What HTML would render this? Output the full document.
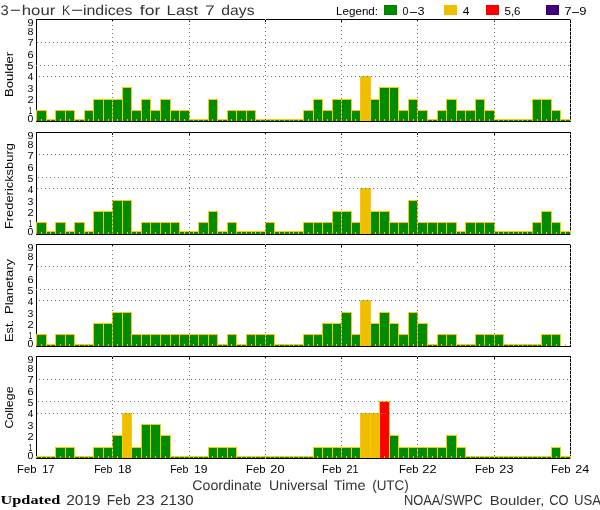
<!DOCTYPE html><html><head><meta charset="utf-8"><title>3-hour K-indices</title><style>html,body{margin:0;padding:0;background:#fff;}svg{display:block;}</style></head><body>
<svg width="600" height="510" viewBox="0 0 600 510">
<rect x="0" y="0" width="600" height="510" fill="#fff"/>
<g shape-rendering="crispEdges">
<path fill="#000000" d="M36 19h535v1h-535zM36 121h535v1h-535zM36 19h1v103h-1zM570 19h1v103h-1z"/>
<path fill="#008c00" d="M37 111h9v10h-9z"/>
<path fill="#ffc800" d="M36 110h11v1h-11zM36 110h1v11h-1zM46 110h1v11h-1z"/>
<path fill="#008c00" d="M47 120h8v1h-8z"/>
<path fill="#ffc800" d="M46 119h10v1h-10zM46 119h1v2h-1zM55 119h1v2h-1z"/>
<path fill="#008c00" d="M56 111h9v10h-9z"/>
<path fill="#ffc800" d="M55 110h11v1h-11zM55 110h1v11h-1zM65 110h1v11h-1z"/>
<path fill="#008c00" d="M66 111h8v10h-8z"/>
<path fill="#ffc800" d="M65 110h10v1h-10zM65 110h1v11h-1zM74 110h1v11h-1z"/>
<path fill="#008c00" d="M75 120h9v1h-9z"/>
<path fill="#ffc800" d="M74 119h11v1h-11zM74 119h1v2h-1zM84 119h1v2h-1z"/>
<path fill="#008c00" d="M85 111h8v10h-8z"/>
<path fill="#ffc800" d="M84 110h10v1h-10zM84 110h1v11h-1zM93 110h1v11h-1z"/>
<path fill="#008c00" d="M94 100h9v21h-9z"/>
<path fill="#ffc800" d="M93 99h11v1h-11zM93 99h1v22h-1zM103 99h1v22h-1z"/>
<path fill="#008c00" d="M104 100h8v21h-8z"/>
<path fill="#ffc800" d="M103 99h10v1h-10zM103 99h1v22h-1zM112 99h1v22h-1z"/>
<path fill="#008c00" d="M113 100h9v21h-9z"/>
<path fill="#ffc800" d="M112 99h11v1h-11zM112 99h1v22h-1zM122 99h1v22h-1z"/>
<path fill="#008c00" d="M123 88h8v33h-8z"/>
<path fill="#ffc800" d="M122 87h10v1h-10zM122 87h1v34h-1zM131 87h1v34h-1z"/>
<path fill="#008c00" d="M132 111h9v10h-9z"/>
<path fill="#ffc800" d="M131 110h11v1h-11zM131 110h1v11h-1zM141 110h1v11h-1z"/>
<path fill="#008c00" d="M142 100h8v21h-8z"/>
<path fill="#ffc800" d="M141 99h10v1h-10zM141 99h1v22h-1zM150 99h1v22h-1z"/>
<path fill="#008c00" d="M151 111h9v10h-9z"/>
<path fill="#ffc800" d="M150 110h11v1h-11zM150 110h1v11h-1zM160 110h1v11h-1z"/>
<path fill="#008c00" d="M161 100h9v21h-9z"/>
<path fill="#ffc800" d="M160 99h11v1h-11zM160 99h1v22h-1zM170 99h1v22h-1z"/>
<path fill="#008c00" d="M171 111h8v10h-8z"/>
<path fill="#ffc800" d="M170 110h10v1h-10zM170 110h1v11h-1zM179 110h1v11h-1z"/>
<path fill="#008c00" d="M180 111h9v10h-9z"/>
<path fill="#ffc800" d="M179 110h11v1h-11zM179 110h1v11h-1zM189 110h1v11h-1z"/>
<path fill="#008c00" d="M190 120h8v1h-8z"/>
<path fill="#ffc800" d="M189 119h10v1h-10zM189 119h1v2h-1zM198 119h1v2h-1z"/>
<path fill="#008c00" d="M199 120h9v1h-9z"/>
<path fill="#ffc800" d="M198 119h11v1h-11zM198 119h1v2h-1zM208 119h1v2h-1z"/>
<path fill="#008c00" d="M209 100h8v21h-8z"/>
<path fill="#ffc800" d="M208 99h10v1h-10zM208 99h1v22h-1zM217 99h1v22h-1z"/>
<path fill="#008c00" d="M218 120h9v1h-9z"/>
<path fill="#ffc800" d="M217 119h11v1h-11zM217 119h1v2h-1zM227 119h1v2h-1z"/>
<path fill="#008c00" d="M228 111h8v10h-8z"/>
<path fill="#ffc800" d="M227 110h10v1h-10zM227 110h1v11h-1zM236 110h1v11h-1z"/>
<path fill="#008c00" d="M237 111h9v10h-9z"/>
<path fill="#ffc800" d="M236 110h11v1h-11zM236 110h1v11h-1zM246 110h1v11h-1z"/>
<path fill="#008c00" d="M247 111h8v10h-8z"/>
<path fill="#ffc800" d="M246 110h10v1h-10zM246 110h1v11h-1zM255 110h1v11h-1z"/>
<path fill="#008c00" d="M256 120h9v1h-9z"/>
<path fill="#ffc800" d="M255 119h11v1h-11zM255 119h1v2h-1zM265 119h1v2h-1z"/>
<path fill="#008c00" d="M266 120h8v1h-8z"/>
<path fill="#ffc800" d="M265 119h10v1h-10zM265 119h1v2h-1zM274 119h1v2h-1z"/>
<path fill="#008c00" d="M275 120h9v1h-9z"/>
<path fill="#ffc800" d="M274 119h11v1h-11zM274 119h1v2h-1zM284 119h1v2h-1z"/>
<path fill="#008c00" d="M285 120h8v1h-8z"/>
<path fill="#ffc800" d="M284 119h10v1h-10zM284 119h1v2h-1zM293 119h1v2h-1z"/>
<path fill="#008c00" d="M294 120h9v1h-9z"/>
<path fill="#ffc800" d="M293 119h11v1h-11zM293 119h1v2h-1zM303 119h1v2h-1z"/>
<path fill="#008c00" d="M304 111h9v10h-9z"/>
<path fill="#ffc800" d="M303 110h11v1h-11zM303 110h1v11h-1zM313 110h1v11h-1z"/>
<path fill="#008c00" d="M314 100h8v21h-8z"/>
<path fill="#ffc800" d="M313 99h10v1h-10zM313 99h1v22h-1zM322 99h1v22h-1z"/>
<path fill="#008c00" d="M323 111h9v10h-9z"/>
<path fill="#ffc800" d="M322 110h11v1h-11zM322 110h1v11h-1zM332 110h1v11h-1z"/>
<path fill="#008c00" d="M333 100h8v21h-8z"/>
<path fill="#ffc800" d="M332 99h10v1h-10zM332 99h1v22h-1zM341 99h1v22h-1z"/>
<path fill="#008c00" d="M342 100h9v21h-9z"/>
<path fill="#ffc800" d="M341 99h11v1h-11zM341 99h1v22h-1zM351 99h1v22h-1z"/>
<path fill="#008c00" d="M352 111h8v10h-8z"/>
<path fill="#ffc800" d="M351 110h10v1h-10zM351 110h1v11h-1zM360 110h1v11h-1z"/>
<path fill="#f0be00" d="M361 77h9v44h-9z"/>
<path fill="#ffc800" d="M360 76h11v1h-11zM360 76h1v45h-1zM370 76h1v45h-1z"/>
<path fill="#008c00" d="M371 100h8v21h-8z"/>
<path fill="#ffc800" d="M370 99h10v1h-10zM370 99h1v22h-1zM379 99h1v22h-1z"/>
<path fill="#008c00" d="M380 88h9v33h-9z"/>
<path fill="#ffc800" d="M379 87h11v1h-11zM379 87h1v34h-1zM389 87h1v34h-1z"/>
<path fill="#008c00" d="M390 88h8v33h-8z"/>
<path fill="#ffc800" d="M389 87h10v1h-10zM389 87h1v34h-1zM398 87h1v34h-1z"/>
<path fill="#008c00" d="M399 111h9v10h-9z"/>
<path fill="#ffc800" d="M398 110h11v1h-11zM398 110h1v11h-1zM408 110h1v11h-1z"/>
<path fill="#008c00" d="M409 100h8v21h-8z"/>
<path fill="#ffc800" d="M408 99h10v1h-10zM408 99h1v22h-1zM417 99h1v22h-1z"/>
<path fill="#008c00" d="M418 111h9v10h-9z"/>
<path fill="#ffc800" d="M417 110h11v1h-11zM417 110h1v11h-1zM427 110h1v11h-1z"/>
<path fill="#008c00" d="M428 120h9v1h-9z"/>
<path fill="#ffc800" d="M427 119h11v1h-11zM427 119h1v2h-1zM437 119h1v2h-1z"/>
<path fill="#008c00" d="M438 111h8v10h-8z"/>
<path fill="#ffc800" d="M437 110h10v1h-10zM437 110h1v11h-1zM446 110h1v11h-1z"/>
<path fill="#008c00" d="M447 100h9v21h-9z"/>
<path fill="#ffc800" d="M446 99h11v1h-11zM446 99h1v22h-1zM456 99h1v22h-1z"/>
<path fill="#008c00" d="M457 111h8v10h-8z"/>
<path fill="#ffc800" d="M456 110h10v1h-10zM456 110h1v11h-1zM465 110h1v11h-1z"/>
<path fill="#008c00" d="M466 111h9v10h-9z"/>
<path fill="#ffc800" d="M465 110h11v1h-11zM465 110h1v11h-1zM475 110h1v11h-1z"/>
<path fill="#008c00" d="M476 100h8v21h-8z"/>
<path fill="#ffc800" d="M475 99h10v1h-10zM475 99h1v22h-1zM484 99h1v22h-1z"/>
<path fill="#008c00" d="M485 111h9v10h-9z"/>
<path fill="#ffc800" d="M484 110h11v1h-11zM484 110h1v11h-1zM494 110h1v11h-1z"/>
<path fill="#008c00" d="M495 120h8v1h-8z"/>
<path fill="#ffc800" d="M494 119h10v1h-10zM494 119h1v2h-1zM503 119h1v2h-1z"/>
<path fill="#008c00" d="M504 120h9v1h-9z"/>
<path fill="#ffc800" d="M503 119h11v1h-11zM503 119h1v2h-1zM513 119h1v2h-1z"/>
<path fill="#008c00" d="M514 120h8v1h-8z"/>
<path fill="#ffc800" d="M513 119h10v1h-10zM513 119h1v2h-1zM522 119h1v2h-1z"/>
<path fill="#008c00" d="M523 120h9v1h-9z"/>
<path fill="#ffc800" d="M522 119h11v1h-11zM522 119h1v2h-1zM532 119h1v2h-1z"/>
<path fill="#008c00" d="M533 100h8v21h-8z"/>
<path fill="#ffc800" d="M532 99h10v1h-10zM532 99h1v22h-1zM541 99h1v22h-1z"/>
<path fill="#008c00" d="M542 100h9v21h-9z"/>
<path fill="#ffc800" d="M541 99h11v1h-11zM541 99h1v22h-1zM551 99h1v22h-1z"/>
<path fill="#008c00" d="M552 111h8v10h-8z"/>
<path fill="#ffc800" d="M551 110h10v1h-10zM551 110h1v11h-1zM560 110h1v11h-1z"/>
<path fill="#008c00" d="M561 120h9v1h-9z"/>
<path fill="#ffc800" d="M560 119h11v1h-11zM560 119h1v2h-1zM570 119h1v2h-1zM41 119h1v2h-1zM50 119h1v2h-1zM60 119h1v2h-1zM69 119h1v2h-1zM79 119h1v2h-1zM88 119h1v2h-1zM98 119h1v2h-1zM108 119h1v2h-1zM117 119h1v2h-1zM127 119h1v2h-1zM136 119h1v2h-1zM146 119h1v2h-1zM155 119h1v2h-1zM165 119h1v2h-1zM174 119h1v2h-1zM184 119h1v2h-1zM193 119h1v2h-1zM203 119h1v2h-1zM212 119h1v2h-1zM222 119h1v2h-1zM231 119h1v2h-1zM241 119h1v2h-1zM251 119h1v2h-1zM260 119h1v2h-1zM270 119h1v2h-1zM279 119h1v2h-1zM289 119h1v2h-1zM298 119h1v2h-1zM308 119h1v2h-1zM317 119h1v2h-1zM327 119h1v2h-1zM336 119h1v2h-1zM346 119h1v2h-1zM355 119h1v2h-1zM365 119h1v2h-1zM375 119h1v2h-1zM384 119h1v2h-1zM394 119h1v2h-1zM403 119h1v2h-1zM413 119h1v2h-1zM422 119h1v2h-1zM432 119h1v2h-1zM441 119h1v2h-1zM451 119h1v2h-1zM460 119h1v2h-1zM470 119h1v2h-1zM479 119h1v2h-1zM489 119h1v2h-1zM498 119h1v2h-1zM508 119h1v2h-1zM518 119h1v2h-1zM527 119h1v2h-1zM537 119h1v2h-1zM546 119h1v2h-1zM556 119h1v2h-1zM565 119h1v2h-1z"/>
<path fill="#000000" d="M36 132h535v1h-535zM36 234h535v1h-535zM36 132h1v103h-1zM570 132h1v103h-1z"/>
<path fill="#008c00" d="M37 223h9v11h-9z"/>
<path fill="#ffc800" d="M36 222h11v1h-11zM36 222h1v12h-1zM46 222h1v12h-1z"/>
<path fill="#008c00" d="M47 232h8v2h-8z"/>
<path fill="#ffc800" d="M46 231h10v1h-10zM46 231h1v3h-1zM55 231h1v3h-1z"/>
<path fill="#008c00" d="M56 223h9v11h-9z"/>
<path fill="#ffc800" d="M55 222h11v1h-11zM55 222h1v12h-1zM65 222h1v12h-1z"/>
<path fill="#008c00" d="M66 232h8v2h-8z"/>
<path fill="#ffc800" d="M65 231h10v1h-10zM65 231h1v3h-1zM74 231h1v3h-1z"/>
<path fill="#008c00" d="M75 223h9v11h-9z"/>
<path fill="#ffc800" d="M74 222h11v1h-11zM74 222h1v12h-1zM84 222h1v12h-1z"/>
<path fill="#008c00" d="M85 232h8v2h-8z"/>
<path fill="#ffc800" d="M84 231h10v1h-10zM84 231h1v3h-1zM93 231h1v3h-1z"/>
<path fill="#008c00" d="M94 212h9v22h-9z"/>
<path fill="#ffc800" d="M93 211h11v1h-11zM93 211h1v23h-1zM103 211h1v23h-1z"/>
<path fill="#008c00" d="M104 212h8v22h-8z"/>
<path fill="#ffc800" d="M103 211h10v1h-10zM103 211h1v23h-1zM112 211h1v23h-1z"/>
<path fill="#008c00" d="M113 201h9v33h-9z"/>
<path fill="#ffc800" d="M112 200h11v1h-11zM112 200h1v34h-1zM122 200h1v34h-1z"/>
<path fill="#008c00" d="M123 201h8v33h-8z"/>
<path fill="#ffc800" d="M122 200h10v1h-10zM122 200h1v34h-1zM131 200h1v34h-1z"/>
<path fill="#008c00" d="M132 232h9v2h-9z"/>
<path fill="#ffc800" d="M131 231h11v1h-11zM131 231h1v3h-1zM141 231h1v3h-1z"/>
<path fill="#008c00" d="M142 223h8v11h-8z"/>
<path fill="#ffc800" d="M141 222h10v1h-10zM141 222h1v12h-1zM150 222h1v12h-1z"/>
<path fill="#008c00" d="M151 223h9v11h-9z"/>
<path fill="#ffc800" d="M150 222h11v1h-11zM150 222h1v12h-1zM160 222h1v12h-1z"/>
<path fill="#008c00" d="M161 223h9v11h-9z"/>
<path fill="#ffc800" d="M160 222h11v1h-11zM160 222h1v12h-1zM170 222h1v12h-1z"/>
<path fill="#008c00" d="M171 223h8v11h-8z"/>
<path fill="#ffc800" d="M170 222h10v1h-10zM170 222h1v12h-1zM179 222h1v12h-1z"/>
<path fill="#008c00" d="M180 232h9v2h-9z"/>
<path fill="#ffc800" d="M179 231h11v1h-11zM179 231h1v3h-1zM189 231h1v3h-1z"/>
<path fill="#008c00" d="M190 232h8v2h-8z"/>
<path fill="#ffc800" d="M189 231h10v1h-10zM189 231h1v3h-1zM198 231h1v3h-1z"/>
<path fill="#008c00" d="M199 223h9v11h-9z"/>
<path fill="#ffc800" d="M198 222h11v1h-11zM198 222h1v12h-1zM208 222h1v12h-1z"/>
<path fill="#008c00" d="M209 212h8v22h-8z"/>
<path fill="#ffc800" d="M208 211h10v1h-10zM208 211h1v23h-1zM217 211h1v23h-1z"/>
<path fill="#008c00" d="M218 232h9v2h-9z"/>
<path fill="#ffc800" d="M217 231h11v1h-11zM217 231h1v3h-1zM227 231h1v3h-1z"/>
<path fill="#008c00" d="M228 223h8v11h-8z"/>
<path fill="#ffc800" d="M227 222h10v1h-10zM227 222h1v12h-1zM236 222h1v12h-1z"/>
<path fill="#008c00" d="M237 232h9v2h-9z"/>
<path fill="#ffc800" d="M236 231h11v1h-11zM236 231h1v3h-1zM246 231h1v3h-1z"/>
<path fill="#008c00" d="M247 232h8v2h-8z"/>
<path fill="#ffc800" d="M246 231h10v1h-10zM246 231h1v3h-1zM255 231h1v3h-1z"/>
<path fill="#008c00" d="M256 232h9v2h-9z"/>
<path fill="#ffc800" d="M255 231h11v1h-11zM255 231h1v3h-1zM265 231h1v3h-1z"/>
<path fill="#008c00" d="M266 223h8v11h-8z"/>
<path fill="#ffc800" d="M265 222h10v1h-10zM265 222h1v12h-1zM274 222h1v12h-1z"/>
<path fill="#008c00" d="M275 232h9v2h-9z"/>
<path fill="#ffc800" d="M274 231h11v1h-11zM274 231h1v3h-1zM284 231h1v3h-1z"/>
<path fill="#008c00" d="M285 232h8v2h-8z"/>
<path fill="#ffc800" d="M284 231h10v1h-10zM284 231h1v3h-1zM293 231h1v3h-1z"/>
<path fill="#008c00" d="M294 232h9v2h-9z"/>
<path fill="#ffc800" d="M293 231h11v1h-11zM293 231h1v3h-1zM303 231h1v3h-1z"/>
<path fill="#008c00" d="M304 223h9v11h-9z"/>
<path fill="#ffc800" d="M303 222h11v1h-11zM303 222h1v12h-1zM313 222h1v12h-1z"/>
<path fill="#008c00" d="M314 223h8v11h-8z"/>
<path fill="#ffc800" d="M313 222h10v1h-10zM313 222h1v12h-1zM322 222h1v12h-1z"/>
<path fill="#008c00" d="M323 223h9v11h-9z"/>
<path fill="#ffc800" d="M322 222h11v1h-11zM322 222h1v12h-1zM332 222h1v12h-1z"/>
<path fill="#008c00" d="M333 212h8v22h-8z"/>
<path fill="#ffc800" d="M332 211h10v1h-10zM332 211h1v23h-1zM341 211h1v23h-1z"/>
<path fill="#008c00" d="M342 212h9v22h-9z"/>
<path fill="#ffc800" d="M341 211h11v1h-11zM341 211h1v23h-1zM351 211h1v23h-1z"/>
<path fill="#008c00" d="M352 223h8v11h-8z"/>
<path fill="#ffc800" d="M351 222h10v1h-10zM351 222h1v12h-1zM360 222h1v12h-1z"/>
<path fill="#f0be00" d="M361 189h9v45h-9z"/>
<path fill="#ffc800" d="M360 188h11v1h-11zM360 188h1v46h-1zM370 188h1v46h-1z"/>
<path fill="#008c00" d="M371 212h8v22h-8z"/>
<path fill="#ffc800" d="M370 211h10v1h-10zM370 211h1v23h-1zM379 211h1v23h-1z"/>
<path fill="#008c00" d="M380 212h9v22h-9z"/>
<path fill="#ffc800" d="M379 211h11v1h-11zM379 211h1v23h-1zM389 211h1v23h-1z"/>
<path fill="#008c00" d="M390 223h8v11h-8z"/>
<path fill="#ffc800" d="M389 222h10v1h-10zM389 222h1v12h-1zM398 222h1v12h-1z"/>
<path fill="#008c00" d="M399 223h9v11h-9z"/>
<path fill="#ffc800" d="M398 222h11v1h-11zM398 222h1v12h-1zM408 222h1v12h-1z"/>
<path fill="#008c00" d="M409 201h8v33h-8z"/>
<path fill="#ffc800" d="M408 200h10v1h-10zM408 200h1v34h-1zM417 200h1v34h-1z"/>
<path fill="#008c00" d="M418 223h9v11h-9z"/>
<path fill="#ffc800" d="M417 222h11v1h-11zM417 222h1v12h-1zM427 222h1v12h-1z"/>
<path fill="#008c00" d="M428 223h9v11h-9z"/>
<path fill="#ffc800" d="M427 222h11v1h-11zM427 222h1v12h-1zM437 222h1v12h-1z"/>
<path fill="#008c00" d="M438 223h8v11h-8z"/>
<path fill="#ffc800" d="M437 222h10v1h-10zM437 222h1v12h-1zM446 222h1v12h-1z"/>
<path fill="#008c00" d="M447 223h9v11h-9z"/>
<path fill="#ffc800" d="M446 222h11v1h-11zM446 222h1v12h-1zM456 222h1v12h-1z"/>
<path fill="#008c00" d="M457 232h8v2h-8z"/>
<path fill="#ffc800" d="M456 231h10v1h-10zM456 231h1v3h-1zM465 231h1v3h-1z"/>
<path fill="#008c00" d="M466 223h9v11h-9z"/>
<path fill="#ffc800" d="M465 222h11v1h-11zM465 222h1v12h-1zM475 222h1v12h-1z"/>
<path fill="#008c00" d="M476 223h8v11h-8z"/>
<path fill="#ffc800" d="M475 222h10v1h-10zM475 222h1v12h-1zM484 222h1v12h-1z"/>
<path fill="#008c00" d="M485 223h9v11h-9z"/>
<path fill="#ffc800" d="M484 222h11v1h-11zM484 222h1v12h-1zM494 222h1v12h-1z"/>
<path fill="#008c00" d="M495 232h8v2h-8z"/>
<path fill="#ffc800" d="M494 231h10v1h-10zM494 231h1v3h-1zM503 231h1v3h-1z"/>
<path fill="#008c00" d="M504 232h9v2h-9z"/>
<path fill="#ffc800" d="M503 231h11v1h-11zM503 231h1v3h-1zM513 231h1v3h-1z"/>
<path fill="#008c00" d="M514 232h8v2h-8z"/>
<path fill="#ffc800" d="M513 231h10v1h-10zM513 231h1v3h-1zM522 231h1v3h-1z"/>
<path fill="#008c00" d="M523 232h9v2h-9z"/>
<path fill="#ffc800" d="M522 231h11v1h-11zM522 231h1v3h-1zM532 231h1v3h-1z"/>
<path fill="#008c00" d="M533 223h8v11h-8z"/>
<path fill="#ffc800" d="M532 222h10v1h-10zM532 222h1v12h-1zM541 222h1v12h-1z"/>
<path fill="#008c00" d="M542 212h9v22h-9z"/>
<path fill="#ffc800" d="M541 211h11v1h-11zM541 211h1v23h-1zM551 211h1v23h-1z"/>
<path fill="#008c00" d="M552 223h8v11h-8z"/>
<path fill="#ffc800" d="M551 222h10v1h-10zM551 222h1v12h-1zM560 222h1v12h-1z"/>
<path fill="#008c00" d="M561 232h9v2h-9z"/>
<path fill="#ffc800" d="M560 231h11v1h-11zM560 231h1v3h-1zM570 231h1v3h-1zM41 232h1v2h-1zM50 232h1v2h-1zM60 232h1v2h-1zM69 232h1v2h-1zM79 232h1v2h-1zM88 232h1v2h-1zM98 232h1v2h-1zM108 232h1v2h-1zM117 232h1v2h-1zM127 232h1v2h-1zM136 232h1v2h-1zM146 232h1v2h-1zM155 232h1v2h-1zM165 232h1v2h-1zM174 232h1v2h-1zM184 232h1v2h-1zM193 232h1v2h-1zM203 232h1v2h-1zM212 232h1v2h-1zM222 232h1v2h-1zM231 232h1v2h-1zM241 232h1v2h-1zM251 232h1v2h-1zM260 232h1v2h-1zM270 232h1v2h-1zM279 232h1v2h-1zM289 232h1v2h-1zM298 232h1v2h-1zM308 232h1v2h-1zM317 232h1v2h-1zM327 232h1v2h-1zM336 232h1v2h-1zM346 232h1v2h-1zM355 232h1v2h-1zM365 232h1v2h-1zM375 232h1v2h-1zM384 232h1v2h-1zM394 232h1v2h-1zM403 232h1v2h-1zM413 232h1v2h-1zM422 232h1v2h-1zM432 232h1v2h-1zM441 232h1v2h-1zM451 232h1v2h-1zM460 232h1v2h-1zM470 232h1v2h-1zM479 232h1v2h-1zM489 232h1v2h-1zM498 232h1v2h-1zM508 232h1v2h-1zM518 232h1v2h-1zM527 232h1v2h-1zM537 232h1v2h-1zM546 232h1v2h-1zM556 232h1v2h-1zM565 232h1v2h-1z"/>
<path fill="#000000" d="M36 244h535v1h-535zM36 346h535v1h-535zM36 244h1v103h-1zM570 244h1v103h-1z"/>
<path fill="#008c00" d="M37 335h9v11h-9z"/>
<path fill="#ffc800" d="M36 334h11v1h-11zM36 334h1v12h-1zM46 334h1v12h-1z"/>
<path fill="#008c00" d="M47 345h8v1h-8z"/>
<path fill="#ffc800" d="M46 344h10v1h-10zM46 344h1v2h-1zM55 344h1v2h-1z"/>
<path fill="#008c00" d="M56 335h9v11h-9z"/>
<path fill="#ffc800" d="M55 334h11v1h-11zM55 334h1v12h-1zM65 334h1v12h-1z"/>
<path fill="#008c00" d="M66 335h8v11h-8z"/>
<path fill="#ffc800" d="M65 334h10v1h-10zM65 334h1v12h-1zM74 334h1v12h-1z"/>
<path fill="#008c00" d="M75 345h9v1h-9z"/>
<path fill="#ffc800" d="M74 344h11v1h-11zM74 344h1v2h-1zM84 344h1v2h-1z"/>
<path fill="#008c00" d="M85 345h8v1h-8z"/>
<path fill="#ffc800" d="M84 344h10v1h-10zM84 344h1v2h-1zM93 344h1v2h-1z"/>
<path fill="#008c00" d="M94 324h9v22h-9z"/>
<path fill="#ffc800" d="M93 323h11v1h-11zM93 323h1v23h-1zM103 323h1v23h-1z"/>
<path fill="#008c00" d="M104 324h8v22h-8z"/>
<path fill="#ffc800" d="M103 323h10v1h-10zM103 323h1v23h-1zM112 323h1v23h-1z"/>
<path fill="#008c00" d="M113 313h9v33h-9z"/>
<path fill="#ffc800" d="M112 312h11v1h-11zM112 312h1v34h-1zM122 312h1v34h-1z"/>
<path fill="#008c00" d="M123 313h8v33h-8z"/>
<path fill="#ffc800" d="M122 312h10v1h-10zM122 312h1v34h-1zM131 312h1v34h-1z"/>
<path fill="#008c00" d="M132 335h9v11h-9z"/>
<path fill="#ffc800" d="M131 334h11v1h-11zM131 334h1v12h-1zM141 334h1v12h-1z"/>
<path fill="#008c00" d="M142 335h8v11h-8z"/>
<path fill="#ffc800" d="M141 334h10v1h-10zM141 334h1v12h-1zM150 334h1v12h-1z"/>
<path fill="#008c00" d="M151 335h9v11h-9z"/>
<path fill="#ffc800" d="M150 334h11v1h-11zM150 334h1v12h-1zM160 334h1v12h-1z"/>
<path fill="#008c00" d="M161 335h9v11h-9z"/>
<path fill="#ffc800" d="M160 334h11v1h-11zM160 334h1v12h-1zM170 334h1v12h-1z"/>
<path fill="#008c00" d="M171 335h8v11h-8z"/>
<path fill="#ffc800" d="M170 334h10v1h-10zM170 334h1v12h-1zM179 334h1v12h-1z"/>
<path fill="#008c00" d="M180 335h9v11h-9z"/>
<path fill="#ffc800" d="M179 334h11v1h-11zM179 334h1v12h-1zM189 334h1v12h-1z"/>
<path fill="#008c00" d="M190 335h8v11h-8z"/>
<path fill="#ffc800" d="M189 334h10v1h-10zM189 334h1v12h-1zM198 334h1v12h-1z"/>
<path fill="#008c00" d="M199 335h9v11h-9z"/>
<path fill="#ffc800" d="M198 334h11v1h-11zM198 334h1v12h-1zM208 334h1v12h-1z"/>
<path fill="#008c00" d="M209 335h8v11h-8z"/>
<path fill="#ffc800" d="M208 334h10v1h-10zM208 334h1v12h-1zM217 334h1v12h-1z"/>
<path fill="#008c00" d="M218 345h9v1h-9z"/>
<path fill="#ffc800" d="M217 344h11v1h-11zM217 344h1v2h-1zM227 344h1v2h-1z"/>
<path fill="#008c00" d="M228 335h8v11h-8z"/>
<path fill="#ffc800" d="M227 334h10v1h-10zM227 334h1v12h-1zM236 334h1v12h-1z"/>
<path fill="#008c00" d="M237 345h9v1h-9z"/>
<path fill="#ffc800" d="M236 344h11v1h-11zM236 344h1v2h-1zM246 344h1v2h-1z"/>
<path fill="#008c00" d="M247 335h8v11h-8z"/>
<path fill="#ffc800" d="M246 334h10v1h-10zM246 334h1v12h-1zM255 334h1v12h-1z"/>
<path fill="#008c00" d="M256 335h9v11h-9z"/>
<path fill="#ffc800" d="M255 334h11v1h-11zM255 334h1v12h-1zM265 334h1v12h-1z"/>
<path fill="#008c00" d="M266 335h8v11h-8z"/>
<path fill="#ffc800" d="M265 334h10v1h-10zM265 334h1v12h-1zM274 334h1v12h-1z"/>
<path fill="#008c00" d="M275 345h9v1h-9z"/>
<path fill="#ffc800" d="M274 344h11v1h-11zM274 344h1v2h-1zM284 344h1v2h-1z"/>
<path fill="#008c00" d="M285 345h8v1h-8z"/>
<path fill="#ffc800" d="M284 344h10v1h-10zM284 344h1v2h-1zM293 344h1v2h-1z"/>
<path fill="#008c00" d="M294 345h9v1h-9z"/>
<path fill="#ffc800" d="M293 344h11v1h-11zM293 344h1v2h-1zM303 344h1v2h-1z"/>
<path fill="#008c00" d="M304 335h9v11h-9z"/>
<path fill="#ffc800" d="M303 334h11v1h-11zM303 334h1v12h-1zM313 334h1v12h-1z"/>
<path fill="#008c00" d="M314 335h8v11h-8z"/>
<path fill="#ffc800" d="M313 334h10v1h-10zM313 334h1v12h-1zM322 334h1v12h-1z"/>
<path fill="#008c00" d="M323 324h9v22h-9z"/>
<path fill="#ffc800" d="M322 323h11v1h-11zM322 323h1v23h-1zM332 323h1v23h-1z"/>
<path fill="#008c00" d="M333 324h8v22h-8z"/>
<path fill="#ffc800" d="M332 323h10v1h-10zM332 323h1v23h-1zM341 323h1v23h-1z"/>
<path fill="#008c00" d="M342 313h9v33h-9z"/>
<path fill="#ffc800" d="M341 312h11v1h-11zM341 312h1v34h-1zM351 312h1v34h-1z"/>
<path fill="#008c00" d="M352 335h8v11h-8z"/>
<path fill="#ffc800" d="M351 334h10v1h-10zM351 334h1v12h-1zM360 334h1v12h-1z"/>
<path fill="#f0be00" d="M361 301h9v45h-9z"/>
<path fill="#ffc800" d="M360 300h11v1h-11zM360 300h1v46h-1zM370 300h1v46h-1z"/>
<path fill="#008c00" d="M371 324h8v22h-8z"/>
<path fill="#ffc800" d="M370 323h10v1h-10zM370 323h1v23h-1zM379 323h1v23h-1z"/>
<path fill="#008c00" d="M380 313h9v33h-9z"/>
<path fill="#ffc800" d="M379 312h11v1h-11zM379 312h1v34h-1zM389 312h1v34h-1z"/>
<path fill="#008c00" d="M390 324h8v22h-8z"/>
<path fill="#ffc800" d="M389 323h10v1h-10zM389 323h1v23h-1zM398 323h1v23h-1z"/>
<path fill="#008c00" d="M399 335h9v11h-9z"/>
<path fill="#ffc800" d="M398 334h11v1h-11zM398 334h1v12h-1zM408 334h1v12h-1z"/>
<path fill="#008c00" d="M409 313h8v33h-8z"/>
<path fill="#ffc800" d="M408 312h10v1h-10zM408 312h1v34h-1zM417 312h1v34h-1z"/>
<path fill="#008c00" d="M418 324h9v22h-9z"/>
<path fill="#ffc800" d="M417 323h11v1h-11zM417 323h1v23h-1zM427 323h1v23h-1z"/>
<path fill="#008c00" d="M428 345h9v1h-9z"/>
<path fill="#ffc800" d="M427 344h11v1h-11zM427 344h1v2h-1zM437 344h1v2h-1z"/>
<path fill="#008c00" d="M438 335h8v11h-8z"/>
<path fill="#ffc800" d="M437 334h10v1h-10zM437 334h1v12h-1zM446 334h1v12h-1z"/>
<path fill="#008c00" d="M447 335h9v11h-9z"/>
<path fill="#ffc800" d="M446 334h11v1h-11zM446 334h1v12h-1zM456 334h1v12h-1z"/>
<path fill="#008c00" d="M457 345h8v1h-8z"/>
<path fill="#ffc800" d="M456 344h10v1h-10zM456 344h1v2h-1zM465 344h1v2h-1z"/>
<path fill="#008c00" d="M466 345h9v1h-9z"/>
<path fill="#ffc800" d="M465 344h11v1h-11zM465 344h1v2h-1zM475 344h1v2h-1z"/>
<path fill="#008c00" d="M476 335h8v11h-8z"/>
<path fill="#ffc800" d="M475 334h10v1h-10zM475 334h1v12h-1zM484 334h1v12h-1z"/>
<path fill="#008c00" d="M485 335h9v11h-9z"/>
<path fill="#ffc800" d="M484 334h11v1h-11zM484 334h1v12h-1zM494 334h1v12h-1z"/>
<path fill="#008c00" d="M495 335h8v11h-8z"/>
<path fill="#ffc800" d="M494 334h10v1h-10zM494 334h1v12h-1zM503 334h1v12h-1z"/>
<path fill="#008c00" d="M504 345h9v1h-9z"/>
<path fill="#ffc800" d="M503 344h11v1h-11zM503 344h1v2h-1zM513 344h1v2h-1z"/>
<path fill="#008c00" d="M514 345h8v1h-8z"/>
<path fill="#ffc800" d="M513 344h10v1h-10zM513 344h1v2h-1zM522 344h1v2h-1z"/>
<path fill="#008c00" d="M523 345h9v1h-9z"/>
<path fill="#ffc800" d="M522 344h11v1h-11zM522 344h1v2h-1zM532 344h1v2h-1z"/>
<path fill="#008c00" d="M533 345h8v1h-8z"/>
<path fill="#ffc800" d="M532 344h10v1h-10zM532 344h1v2h-1zM541 344h1v2h-1z"/>
<path fill="#008c00" d="M542 335h9v11h-9z"/>
<path fill="#ffc800" d="M541 334h11v1h-11zM541 334h1v12h-1zM551 334h1v12h-1z"/>
<path fill="#008c00" d="M552 335h8v11h-8z"/>
<path fill="#ffc800" d="M551 334h10v1h-10zM551 334h1v12h-1zM560 334h1v12h-1zM41 344h1v2h-1zM50 344h1v2h-1zM60 344h1v2h-1zM69 344h1v2h-1zM79 344h1v2h-1zM88 344h1v2h-1zM98 344h1v2h-1zM108 344h1v2h-1zM117 344h1v2h-1zM127 344h1v2h-1zM136 344h1v2h-1zM146 344h1v2h-1zM155 344h1v2h-1zM165 344h1v2h-1zM174 344h1v2h-1zM184 344h1v2h-1zM193 344h1v2h-1zM203 344h1v2h-1zM212 344h1v2h-1zM222 344h1v2h-1zM231 344h1v2h-1zM241 344h1v2h-1zM251 344h1v2h-1zM260 344h1v2h-1zM270 344h1v2h-1zM279 344h1v2h-1zM289 344h1v2h-1zM298 344h1v2h-1zM308 344h1v2h-1zM317 344h1v2h-1zM327 344h1v2h-1zM336 344h1v2h-1zM346 344h1v2h-1zM355 344h1v2h-1zM365 344h1v2h-1zM375 344h1v2h-1zM384 344h1v2h-1zM394 344h1v2h-1zM403 344h1v2h-1zM413 344h1v2h-1zM422 344h1v2h-1zM432 344h1v2h-1zM441 344h1v2h-1zM451 344h1v2h-1zM460 344h1v2h-1zM470 344h1v2h-1zM479 344h1v2h-1zM489 344h1v2h-1zM498 344h1v2h-1zM508 344h1v2h-1zM518 344h1v2h-1zM527 344h1v2h-1zM537 344h1v2h-1zM546 344h1v2h-1zM556 344h1v2h-1zM565 344h1v2h-1z"/>
<path fill="#000000" d="M36 356h535v1h-535zM36 458h535v1h-535zM36 356h1v103h-1zM570 356h1v103h-1z"/>
<path fill="#008c00" d="M37 457h9v1h-9z"/>
<path fill="#ffc800" d="M36 456h11v1h-11zM36 456h1v2h-1zM46 456h1v2h-1z"/>
<path fill="#008c00" d="M47 457h8v1h-8z"/>
<path fill="#ffc800" d="M46 456h10v1h-10zM46 456h1v2h-1zM55 456h1v2h-1z"/>
<path fill="#008c00" d="M56 448h9v10h-9z"/>
<path fill="#ffc800" d="M55 447h11v1h-11zM55 447h1v11h-1zM65 447h1v11h-1z"/>
<path fill="#008c00" d="M66 448h8v10h-8z"/>
<path fill="#ffc800" d="M65 447h10v1h-10zM65 447h1v11h-1zM74 447h1v11h-1z"/>
<path fill="#008c00" d="M75 457h9v1h-9z"/>
<path fill="#ffc800" d="M74 456h11v1h-11zM74 456h1v2h-1zM84 456h1v2h-1z"/>
<path fill="#008c00" d="M85 457h8v1h-8z"/>
<path fill="#ffc800" d="M84 456h10v1h-10zM84 456h1v2h-1zM93 456h1v2h-1z"/>
<path fill="#008c00" d="M94 448h9v10h-9z"/>
<path fill="#ffc800" d="M93 447h11v1h-11zM93 447h1v11h-1zM103 447h1v11h-1z"/>
<path fill="#008c00" d="M104 448h8v10h-8z"/>
<path fill="#ffc800" d="M103 447h10v1h-10zM103 447h1v11h-1zM112 447h1v11h-1z"/>
<path fill="#008c00" d="M113 436h9v22h-9z"/>
<path fill="#ffc800" d="M112 435h11v1h-11zM112 435h1v23h-1zM122 435h1v23h-1z"/>
<path fill="#f0be00" d="M123 414h8v44h-8z"/>
<path fill="#ffc800" d="M122 413h10v1h-10zM122 413h1v45h-1zM131 413h1v45h-1z"/>
<path fill="#008c00" d="M132 448h9v10h-9z"/>
<path fill="#ffc800" d="M131 447h11v1h-11zM131 447h1v11h-1zM141 447h1v11h-1z"/>
<path fill="#008c00" d="M142 425h8v33h-8z"/>
<path fill="#ffc800" d="M141 424h10v1h-10zM141 424h1v34h-1zM150 424h1v34h-1z"/>
<path fill="#008c00" d="M151 425h9v33h-9z"/>
<path fill="#ffc800" d="M150 424h11v1h-11zM150 424h1v34h-1zM160 424h1v34h-1z"/>
<path fill="#008c00" d="M161 436h9v22h-9z"/>
<path fill="#ffc800" d="M160 435h11v1h-11zM160 435h1v23h-1zM170 435h1v23h-1z"/>
<path fill="#008c00" d="M171 457h8v1h-8z"/>
<path fill="#ffc800" d="M170 456h10v1h-10zM170 456h1v2h-1zM179 456h1v2h-1z"/>
<path fill="#008c00" d="M180 457h9v1h-9z"/>
<path fill="#ffc800" d="M179 456h11v1h-11zM179 456h1v2h-1zM189 456h1v2h-1z"/>
<path fill="#008c00" d="M190 457h8v1h-8z"/>
<path fill="#ffc800" d="M189 456h10v1h-10zM189 456h1v2h-1zM198 456h1v2h-1z"/>
<path fill="#008c00" d="M199 457h9v1h-9z"/>
<path fill="#ffc800" d="M198 456h11v1h-11zM198 456h1v2h-1zM208 456h1v2h-1z"/>
<path fill="#008c00" d="M209 448h8v10h-8z"/>
<path fill="#ffc800" d="M208 447h10v1h-10zM208 447h1v11h-1zM217 447h1v11h-1z"/>
<path fill="#008c00" d="M218 448h9v10h-9z"/>
<path fill="#ffc800" d="M217 447h11v1h-11zM217 447h1v11h-1zM227 447h1v11h-1z"/>
<path fill="#008c00" d="M228 448h8v10h-8z"/>
<path fill="#ffc800" d="M227 447h10v1h-10zM227 447h1v11h-1zM236 447h1v11h-1z"/>
<path fill="#008c00" d="M237 457h9v1h-9z"/>
<path fill="#ffc800" d="M236 456h11v1h-11zM236 456h1v2h-1zM246 456h1v2h-1z"/>
<path fill="#008c00" d="M247 457h8v1h-8z"/>
<path fill="#ffc800" d="M246 456h10v1h-10zM246 456h1v2h-1zM255 456h1v2h-1z"/>
<path fill="#008c00" d="M256 457h9v1h-9z"/>
<path fill="#ffc800" d="M255 456h11v1h-11zM255 456h1v2h-1zM265 456h1v2h-1z"/>
<path fill="#008c00" d="M266 457h8v1h-8z"/>
<path fill="#ffc800" d="M265 456h10v1h-10zM265 456h1v2h-1zM274 456h1v2h-1z"/>
<path fill="#008c00" d="M275 457h9v1h-9z"/>
<path fill="#ffc800" d="M274 456h11v1h-11zM274 456h1v2h-1zM284 456h1v2h-1z"/>
<path fill="#008c00" d="M285 457h8v1h-8z"/>
<path fill="#ffc800" d="M284 456h10v1h-10zM284 456h1v2h-1zM293 456h1v2h-1z"/>
<path fill="#008c00" d="M294 457h9v1h-9z"/>
<path fill="#ffc800" d="M293 456h11v1h-11zM293 456h1v2h-1zM303 456h1v2h-1z"/>
<path fill="#008c00" d="M304 457h9v1h-9z"/>
<path fill="#ffc800" d="M303 456h11v1h-11zM303 456h1v2h-1zM313 456h1v2h-1z"/>
<path fill="#008c00" d="M314 448h8v10h-8z"/>
<path fill="#ffc800" d="M313 447h10v1h-10zM313 447h1v11h-1zM322 447h1v11h-1z"/>
<path fill="#008c00" d="M323 448h9v10h-9z"/>
<path fill="#ffc800" d="M322 447h11v1h-11zM322 447h1v11h-1zM332 447h1v11h-1z"/>
<path fill="#008c00" d="M333 448h8v10h-8z"/>
<path fill="#ffc800" d="M332 447h10v1h-10zM332 447h1v11h-1zM341 447h1v11h-1z"/>
<path fill="#008c00" d="M342 448h9v10h-9z"/>
<path fill="#ffc800" d="M341 447h11v1h-11zM341 447h1v11h-1zM351 447h1v11h-1z"/>
<path fill="#008c00" d="M352 448h8v10h-8z"/>
<path fill="#ffc800" d="M351 447h10v1h-10zM351 447h1v11h-1zM360 447h1v11h-1z"/>
<path fill="#f0be00" d="M361 414h9v44h-9z"/>
<path fill="#ffc800" d="M360 413h11v1h-11zM360 413h1v45h-1zM370 413h1v45h-1z"/>
<path fill="#f0be00" d="M371 414h8v44h-8z"/>
<path fill="#ffc800" d="M370 413h10v1h-10zM370 413h1v45h-1zM379 413h1v45h-1z"/>
<path fill="#ff0000" d="M380 402h9v56h-9z"/>
<path fill="#ffc800" d="M379 401h11v1h-11zM379 401h1v57h-1zM389 401h1v57h-1z"/>
<path fill="#008c00" d="M390 436h8v22h-8z"/>
<path fill="#ffc800" d="M389 435h10v1h-10zM389 435h1v23h-1zM398 435h1v23h-1z"/>
<path fill="#008c00" d="M399 448h9v10h-9z"/>
<path fill="#ffc800" d="M398 447h11v1h-11zM398 447h1v11h-1zM408 447h1v11h-1z"/>
<path fill="#008c00" d="M409 448h8v10h-8z"/>
<path fill="#ffc800" d="M408 447h10v1h-10zM408 447h1v11h-1zM417 447h1v11h-1z"/>
<path fill="#008c00" d="M418 448h9v10h-9z"/>
<path fill="#ffc800" d="M417 447h11v1h-11zM417 447h1v11h-1zM427 447h1v11h-1z"/>
<path fill="#008c00" d="M428 448h9v10h-9z"/>
<path fill="#ffc800" d="M427 447h11v1h-11zM427 447h1v11h-1zM437 447h1v11h-1z"/>
<path fill="#008c00" d="M438 448h8v10h-8z"/>
<path fill="#ffc800" d="M437 447h10v1h-10zM437 447h1v11h-1zM446 447h1v11h-1z"/>
<path fill="#008c00" d="M447 436h9v22h-9z"/>
<path fill="#ffc800" d="M446 435h11v1h-11zM446 435h1v23h-1zM456 435h1v23h-1z"/>
<path fill="#008c00" d="M457 448h8v10h-8z"/>
<path fill="#ffc800" d="M456 447h10v1h-10zM456 447h1v11h-1zM465 447h1v11h-1z"/>
<path fill="#008c00" d="M466 457h9v1h-9z"/>
<path fill="#ffc800" d="M465 456h11v1h-11zM465 456h1v2h-1zM475 456h1v2h-1z"/>
<path fill="#008c00" d="M476 457h8v1h-8z"/>
<path fill="#ffc800" d="M475 456h10v1h-10zM475 456h1v2h-1zM484 456h1v2h-1z"/>
<path fill="#008c00" d="M485 457h9v1h-9z"/>
<path fill="#ffc800" d="M484 456h11v1h-11zM484 456h1v2h-1zM494 456h1v2h-1z"/>
<path fill="#008c00" d="M495 457h8v1h-8z"/>
<path fill="#ffc800" d="M494 456h10v1h-10zM494 456h1v2h-1zM503 456h1v2h-1z"/>
<path fill="#008c00" d="M504 457h9v1h-9z"/>
<path fill="#ffc800" d="M503 456h11v1h-11zM503 456h1v2h-1zM513 456h1v2h-1z"/>
<path fill="#008c00" d="M514 457h8v1h-8z"/>
<path fill="#ffc800" d="M513 456h10v1h-10zM513 456h1v2h-1zM522 456h1v2h-1z"/>
<path fill="#008c00" d="M523 457h9v1h-9z"/>
<path fill="#ffc800" d="M522 456h11v1h-11zM522 456h1v2h-1zM532 456h1v2h-1z"/>
<path fill="#008c00" d="M533 457h8v1h-8z"/>
<path fill="#ffc800" d="M532 456h10v1h-10zM532 456h1v2h-1zM541 456h1v2h-1z"/>
<path fill="#008c00" d="M542 457h9v1h-9z"/>
<path fill="#ffc800" d="M541 456h11v1h-11zM541 456h1v2h-1zM551 456h1v2h-1z"/>
<path fill="#008c00" d="M552 448h8v10h-8z"/>
<path fill="#ffc800" d="M551 447h10v1h-10zM551 447h1v11h-1zM560 447h1v11h-1z"/>
<path fill="#008c00" d="M561 457h9v1h-9z"/>
<path fill="#ffc800" d="M560 456h11v1h-11zM560 456h1v2h-1zM570 456h1v2h-1zM41 456h1v2h-1zM50 456h1v2h-1zM60 456h1v2h-1zM69 456h1v2h-1zM79 456h1v2h-1zM88 456h1v2h-1zM98 456h1v2h-1zM108 456h1v2h-1zM117 456h1v2h-1zM127 456h1v2h-1zM136 456h1v2h-1zM146 456h1v2h-1zM155 456h1v2h-1zM165 456h1v2h-1zM174 456h1v2h-1zM184 456h1v2h-1zM193 456h1v2h-1zM203 456h1v2h-1zM212 456h1v2h-1zM222 456h1v2h-1zM231 456h1v2h-1zM241 456h1v2h-1zM251 456h1v2h-1zM260 456h1v2h-1zM270 456h1v2h-1zM279 456h1v2h-1zM289 456h1v2h-1zM298 456h1v2h-1zM308 456h1v2h-1zM317 456h1v2h-1zM327 456h1v2h-1zM336 456h1v2h-1zM346 456h1v2h-1zM355 456h1v2h-1zM365 456h1v2h-1zM375 456h1v2h-1zM384 456h1v2h-1zM394 456h1v2h-1zM403 456h1v2h-1zM413 456h1v2h-1zM422 456h1v2h-1zM432 456h1v2h-1zM441 456h1v2h-1zM451 456h1v2h-1zM460 456h1v2h-1zM470 456h1v2h-1zM479 456h1v2h-1zM489 456h1v2h-1zM498 456h1v2h-1zM508 456h1v2h-1zM518 456h1v2h-1zM527 456h1v2h-1zM537 456h1v2h-1zM546 456h1v2h-1zM556 456h1v2h-1zM565 456h1v2h-1z"/>
<path fill="#000000" d="M36 20h1v2h-1zM112 20h1v2h-1zM189 20h1v2h-1zM265 20h1v2h-1zM341 20h1v2h-1zM417 20h1v2h-1zM494 20h1v2h-1zM570 20h1v2h-1zM36 133h1v2h-1zM112 133h1v2h-1zM189 133h1v2h-1zM265 133h1v2h-1zM341 133h1v2h-1zM417 133h1v2h-1zM494 133h1v2h-1zM570 133h1v2h-1zM36 245h1v2h-1zM112 245h1v2h-1zM189 245h1v2h-1zM265 245h1v2h-1zM341 245h1v2h-1zM417 245h1v2h-1zM494 245h1v2h-1zM570 245h1v2h-1zM36 357h1v2h-1zM112 357h1v2h-1zM189 357h1v2h-1zM265 357h1v2h-1zM341 357h1v2h-1zM417 357h1v2h-1zM494 357h1v2h-1zM570 357h1v2h-1z"/>
<path fill="#a0a0a0" d="M112 121h1v1h-1zM112 21h1v1h-1zM189 20h1v1h-1zM265 19h1v1h-1zM417 121h1v1h-1zM417 21h1v1h-1zM494 20h1v1h-1zM570 115h1v1h-1zM570 111h1v1h-1zM570 107h1v1h-1zM570 103h1v1h-1zM570 99h1v1h-1zM570 95h1v1h-1zM570 91h1v1h-1zM570 87h1v1h-1zM570 83h1v1h-1zM570 79h1v1h-1zM570 75h1v1h-1zM570 71h1v1h-1zM570 67h1v1h-1zM570 63h1v1h-1zM570 59h1v1h-1zM570 55h1v1h-1zM570 51h1v1h-1zM570 47h1v1h-1zM570 43h1v1h-1zM570 39h1v1h-1zM570 35h1v1h-1zM570 31h1v1h-1zM570 27h1v1h-1zM570 23h1v1h-1zM570 19h1v1h-1zM36 65h1v1h-1zM112 132h1v1h-1zM265 234h1v1h-1zM265 134h1v1h-1zM341 133h1v1h-1zM417 132h1v1h-1zM570 234h1v1h-1zM570 230h1v1h-1zM570 226h1v1h-1zM570 222h1v1h-1zM570 218h1v1h-1zM570 214h1v1h-1zM570 210h1v1h-1zM570 206h1v1h-1zM570 202h1v1h-1zM570 198h1v1h-1zM570 194h1v1h-1zM570 190h1v1h-1zM570 186h1v1h-1zM570 182h1v1h-1zM570 178h1v1h-1zM570 174h1v1h-1zM570 170h1v1h-1zM570 166h1v1h-1zM570 162h1v1h-1zM570 158h1v1h-1zM570 154h1v1h-1zM570 150h1v1h-1zM570 146h1v1h-1zM570 142h1v1h-1zM570 138h1v1h-1zM570 134h1v1h-1zM570 177h1v1h-1zM112 346h1v1h-1zM112 246h1v1h-1zM189 245h1v1h-1zM265 244h1v1h-1zM417 346h1v1h-1zM417 246h1v1h-1zM494 245h1v1h-1zM570 344h1v1h-1zM570 340h1v1h-1zM570 336h1v1h-1zM570 332h1v1h-1zM570 328h1v1h-1zM570 324h1v1h-1zM570 320h1v1h-1zM570 316h1v1h-1zM570 312h1v1h-1zM570 308h1v1h-1zM570 304h1v1h-1zM570 300h1v1h-1zM570 296h1v1h-1zM570 292h1v1h-1zM570 288h1v1h-1zM570 284h1v1h-1zM570 280h1v1h-1zM570 276h1v1h-1zM570 272h1v1h-1zM570 268h1v1h-1zM570 264h1v1h-1zM570 260h1v1h-1zM570 256h1v1h-1zM570 252h1v1h-1zM570 248h1v1h-1zM570 244h1v1h-1zM36 289h1v1h-1zM112 356h1v1h-1zM265 458h1v1h-1zM265 358h1v1h-1zM341 357h1v1h-1zM417 356h1v1h-1zM570 458h1v1h-1zM570 454h1v1h-1zM570 450h1v1h-1zM570 446h1v1h-1zM570 442h1v1h-1zM570 438h1v1h-1zM570 434h1v1h-1zM570 430h1v1h-1zM570 426h1v1h-1zM570 422h1v1h-1zM570 418h1v1h-1zM570 414h1v1h-1zM570 410h1v1h-1zM570 406h1v1h-1zM570 402h1v1h-1zM570 398h1v1h-1zM570 394h1v1h-1zM570 390h1v1h-1zM570 386h1v1h-1zM570 382h1v1h-1zM570 378h1v1h-1zM570 374h1v1h-1zM570 370h1v1h-1zM570 366h1v1h-1zM570 362h1v1h-1zM570 358h1v1h-1zM570 401h1v1h-1z"/>
<path fill="#5f7387" d="M112 117h1v1h-1zM112 113h1v1h-1zM112 109h1v1h-1zM112 105h1v1h-1zM112 101h1v1h-1zM189 120h1v1h-1zM189 116h1v1h-1zM189 112h1v1h-1zM265 119h1v1h-1zM341 118h1v1h-1zM341 114h1v1h-1zM341 110h1v1h-1zM341 106h1v1h-1zM341 102h1v1h-1zM417 117h1v1h-1zM417 113h1v1h-1zM417 109h1v1h-1zM417 105h1v1h-1zM417 101h1v1h-1zM494 120h1v1h-1zM494 116h1v1h-1zM494 112h1v1h-1zM570 119h1v1h-1zM363 76h1v1h-1zM367 76h1v1h-1zM112 232h1v1h-1zM112 228h1v1h-1zM112 224h1v1h-1zM112 220h1v1h-1zM112 216h1v1h-1zM112 212h1v1h-1zM112 208h1v1h-1zM112 204h1v1h-1zM112 200h1v1h-1zM189 231h1v1h-1zM265 230h1v1h-1zM265 226h1v1h-1zM265 222h1v1h-1zM341 233h1v1h-1zM341 229h1v1h-1zM341 225h1v1h-1zM341 221h1v1h-1zM341 217h1v1h-1zM341 213h1v1h-1zM417 232h1v1h-1zM417 228h1v1h-1zM417 224h1v1h-1zM417 220h1v1h-1zM417 216h1v1h-1zM417 212h1v1h-1zM417 208h1v1h-1zM417 204h1v1h-1zM417 200h1v1h-1zM494 231h1v1h-1zM494 227h1v1h-1zM494 223h1v1h-1zM361 188h1v1h-1zM365 188h1v1h-1zM369 188h1v1h-1zM112 342h1v1h-1zM112 338h1v1h-1zM112 334h1v1h-1zM112 330h1v1h-1zM112 326h1v1h-1zM112 322h1v1h-1zM112 318h1v1h-1zM112 314h1v1h-1zM189 345h1v1h-1zM189 341h1v1h-1zM189 337h1v1h-1zM265 344h1v1h-1zM265 340h1v1h-1zM265 336h1v1h-1zM341 343h1v1h-1zM341 339h1v1h-1zM341 335h1v1h-1zM341 331h1v1h-1zM341 327h1v1h-1zM341 323h1v1h-1zM341 319h1v1h-1zM341 315h1v1h-1zM417 342h1v1h-1zM417 338h1v1h-1zM417 334h1v1h-1zM417 330h1v1h-1zM417 326h1v1h-1zM417 322h1v1h-1zM417 318h1v1h-1zM417 314h1v1h-1zM494 345h1v1h-1zM494 341h1v1h-1zM494 337h1v1h-1zM363 300h1v1h-1zM367 300h1v1h-1zM112 456h1v1h-1zM112 452h1v1h-1zM112 448h1v1h-1zM112 444h1v1h-1zM112 440h1v1h-1zM112 436h1v1h-1zM341 457h1v1h-1zM341 453h1v1h-1zM341 449h1v1h-1zM417 456h1v1h-1zM417 452h1v1h-1zM417 448h1v1h-1zM125 413h1v1h-1zM129 413h1v1h-1zM361 413h1v1h-1zM365 413h1v1h-1zM369 413h1v1h-1zM373 413h1v1h-1zM377 413h1v1h-1zM389 413h1v1h-1zM382 401h1v1h-1zM386 401h1v1h-1z"/>
<path fill="#767676" d="M112 97h1v1h-1zM112 93h1v1h-1zM112 89h1v1h-1zM112 85h1v1h-1zM112 81h1v1h-1zM112 77h1v1h-1zM112 73h1v1h-1zM112 69h1v1h-1zM112 65h1v1h-1zM112 61h1v1h-1zM112 57h1v1h-1zM112 53h1v1h-1zM112 49h1v1h-1zM112 45h1v1h-1zM112 41h1v1h-1zM112 37h1v1h-1zM112 33h1v1h-1zM112 29h1v1h-1zM112 25h1v1h-1zM189 108h1v1h-1zM189 104h1v1h-1zM189 100h1v1h-1zM189 96h1v1h-1zM189 92h1v1h-1zM189 88h1v1h-1zM189 84h1v1h-1zM189 80h1v1h-1zM189 76h1v1h-1zM189 72h1v1h-1zM189 68h1v1h-1zM189 64h1v1h-1zM189 60h1v1h-1zM189 56h1v1h-1zM189 52h1v1h-1zM189 48h1v1h-1zM189 44h1v1h-1zM189 40h1v1h-1zM189 36h1v1h-1zM189 32h1v1h-1zM189 28h1v1h-1zM189 24h1v1h-1zM265 115h1v1h-1zM265 111h1v1h-1zM265 107h1v1h-1zM265 103h1v1h-1zM265 99h1v1h-1zM265 95h1v1h-1zM265 91h1v1h-1zM265 87h1v1h-1zM265 83h1v1h-1zM265 79h1v1h-1zM265 75h1v1h-1zM265 71h1v1h-1zM265 67h1v1h-1zM265 63h1v1h-1zM265 59h1v1h-1zM265 55h1v1h-1zM265 51h1v1h-1zM265 47h1v1h-1zM265 43h1v1h-1zM265 39h1v1h-1zM265 35h1v1h-1zM265 31h1v1h-1zM265 27h1v1h-1zM265 23h1v1h-1zM341 98h1v1h-1zM341 94h1v1h-1zM341 90h1v1h-1zM341 86h1v1h-1zM341 82h1v1h-1zM341 78h1v1h-1zM341 74h1v1h-1zM341 70h1v1h-1zM341 66h1v1h-1zM341 62h1v1h-1zM341 58h1v1h-1zM341 54h1v1h-1zM341 50h1v1h-1zM341 46h1v1h-1zM341 42h1v1h-1zM341 38h1v1h-1zM341 34h1v1h-1zM341 30h1v1h-1zM341 26h1v1h-1zM341 22h1v1h-1zM417 97h1v1h-1zM417 93h1v1h-1zM417 89h1v1h-1zM417 85h1v1h-1zM417 81h1v1h-1zM417 77h1v1h-1zM417 73h1v1h-1zM417 69h1v1h-1zM417 65h1v1h-1zM417 61h1v1h-1zM417 57h1v1h-1zM417 53h1v1h-1zM417 49h1v1h-1zM417 45h1v1h-1zM417 41h1v1h-1zM417 37h1v1h-1zM417 33h1v1h-1zM417 29h1v1h-1zM417 25h1v1h-1zM494 108h1v1h-1zM494 104h1v1h-1zM494 100h1v1h-1zM494 96h1v1h-1zM494 92h1v1h-1zM494 88h1v1h-1zM494 84h1v1h-1zM494 80h1v1h-1zM494 76h1v1h-1zM494 72h1v1h-1zM494 68h1v1h-1zM494 64h1v1h-1zM494 60h1v1h-1zM494 56h1v1h-1zM494 52h1v1h-1zM494 48h1v1h-1zM494 44h1v1h-1zM494 40h1v1h-1zM494 36h1v1h-1zM494 32h1v1h-1zM494 28h1v1h-1zM494 24h1v1h-1zM39 76h1v1h-1zM43 76h1v1h-1zM47 76h1v1h-1zM51 76h1v1h-1zM55 76h1v1h-1zM59 76h1v1h-1zM63 76h1v1h-1zM67 76h1v1h-1zM71 76h1v1h-1zM75 76h1v1h-1zM79 76h1v1h-1zM83 76h1v1h-1zM87 76h1v1h-1zM91 76h1v1h-1zM95 76h1v1h-1zM99 76h1v1h-1zM103 76h1v1h-1zM107 76h1v1h-1zM111 76h1v1h-1zM115 76h1v1h-1zM119 76h1v1h-1zM123 76h1v1h-1zM127 76h1v1h-1zM131 76h1v1h-1zM135 76h1v1h-1zM139 76h1v1h-1zM143 76h1v1h-1zM147 76h1v1h-1zM151 76h1v1h-1zM155 76h1v1h-1zM159 76h1v1h-1zM163 76h1v1h-1zM167 76h1v1h-1zM171 76h1v1h-1zM175 76h1v1h-1zM179 76h1v1h-1zM183 76h1v1h-1zM187 76h1v1h-1zM191 76h1v1h-1zM195 76h1v1h-1zM199 76h1v1h-1zM203 76h1v1h-1zM207 76h1v1h-1zM211 76h1v1h-1zM215 76h1v1h-1zM219 76h1v1h-1zM223 76h1v1h-1zM227 76h1v1h-1zM231 76h1v1h-1zM235 76h1v1h-1zM239 76h1v1h-1zM243 76h1v1h-1zM247 76h1v1h-1zM251 76h1v1h-1zM255 76h1v1h-1zM259 76h1v1h-1zM263 76h1v1h-1zM267 76h1v1h-1zM271 76h1v1h-1zM275 76h1v1h-1zM279 76h1v1h-1zM283 76h1v1h-1zM287 76h1v1h-1zM291 76h1v1h-1zM295 76h1v1h-1zM299 76h1v1h-1zM303 76h1v1h-1zM307 76h1v1h-1zM311 76h1v1h-1zM315 76h1v1h-1zM319 76h1v1h-1zM323 76h1v1h-1zM327 76h1v1h-1zM331 76h1v1h-1zM335 76h1v1h-1zM339 76h1v1h-1zM343 76h1v1h-1zM347 76h1v1h-1zM351 76h1v1h-1zM355 76h1v1h-1zM359 76h1v1h-1zM371 76h1v1h-1zM375 76h1v1h-1zM379 76h1v1h-1zM383 76h1v1h-1zM387 76h1v1h-1zM391 76h1v1h-1zM395 76h1v1h-1zM399 76h1v1h-1zM403 76h1v1h-1zM407 76h1v1h-1zM411 76h1v1h-1zM415 76h1v1h-1zM419 76h1v1h-1zM423 76h1v1h-1zM427 76h1v1h-1zM431 76h1v1h-1zM435 76h1v1h-1zM439 76h1v1h-1zM443 76h1v1h-1zM447 76h1v1h-1zM451 76h1v1h-1zM455 76h1v1h-1zM459 76h1v1h-1zM463 76h1v1h-1zM467 76h1v1h-1zM471 76h1v1h-1zM475 76h1v1h-1zM479 76h1v1h-1zM483 76h1v1h-1zM487 76h1v1h-1zM491 76h1v1h-1zM495 76h1v1h-1zM499 76h1v1h-1zM503 76h1v1h-1zM507 76h1v1h-1zM511 76h1v1h-1zM515 76h1v1h-1zM519 76h1v1h-1zM523 76h1v1h-1zM527 76h1v1h-1zM531 76h1v1h-1zM535 76h1v1h-1zM539 76h1v1h-1zM543 76h1v1h-1zM547 76h1v1h-1zM551 76h1v1h-1zM555 76h1v1h-1zM559 76h1v1h-1zM563 76h1v1h-1zM567 76h1v1h-1zM40 65h1v1h-1zM44 65h1v1h-1zM48 65h1v1h-1zM52 65h1v1h-1zM56 65h1v1h-1zM60 65h1v1h-1zM64 65h1v1h-1zM68 65h1v1h-1zM72 65h1v1h-1zM76 65h1v1h-1zM80 65h1v1h-1zM84 65h1v1h-1zM88 65h1v1h-1zM92 65h1v1h-1zM96 65h1v1h-1zM100 65h1v1h-1zM104 65h1v1h-1zM108 65h1v1h-1zM116 65h1v1h-1zM120 65h1v1h-1zM124 65h1v1h-1zM128 65h1v1h-1zM132 65h1v1h-1zM136 65h1v1h-1zM140 65h1v1h-1zM144 65h1v1h-1zM148 65h1v1h-1zM152 65h1v1h-1zM156 65h1v1h-1zM160 65h1v1h-1zM164 65h1v1h-1zM168 65h1v1h-1zM172 65h1v1h-1zM176 65h1v1h-1zM180 65h1v1h-1zM184 65h1v1h-1zM188 65h1v1h-1zM192 65h1v1h-1zM196 65h1v1h-1zM200 65h1v1h-1zM204 65h1v1h-1zM208 65h1v1h-1zM212 65h1v1h-1zM216 65h1v1h-1zM220 65h1v1h-1zM224 65h1v1h-1zM228 65h1v1h-1zM232 65h1v1h-1zM236 65h1v1h-1zM240 65h1v1h-1zM244 65h1v1h-1zM248 65h1v1h-1zM252 65h1v1h-1zM256 65h1v1h-1zM260 65h1v1h-1zM264 65h1v1h-1zM268 65h1v1h-1zM272 65h1v1h-1zM276 65h1v1h-1zM280 65h1v1h-1zM284 65h1v1h-1zM288 65h1v1h-1zM292 65h1v1h-1zM296 65h1v1h-1zM300 65h1v1h-1zM304 65h1v1h-1zM308 65h1v1h-1zM312 65h1v1h-1zM316 65h1v1h-1zM320 65h1v1h-1zM324 65h1v1h-1zM328 65h1v1h-1zM332 65h1v1h-1zM336 65h1v1h-1zM340 65h1v1h-1zM344 65h1v1h-1zM348 65h1v1h-1zM352 65h1v1h-1zM356 65h1v1h-1zM360 65h1v1h-1zM364 65h1v1h-1zM368 65h1v1h-1zM372 65h1v1h-1zM376 65h1v1h-1zM380 65h1v1h-1zM384 65h1v1h-1zM388 65h1v1h-1zM392 65h1v1h-1zM396 65h1v1h-1zM400 65h1v1h-1zM404 65h1v1h-1zM408 65h1v1h-1zM412 65h1v1h-1zM416 65h1v1h-1zM420 65h1v1h-1zM424 65h1v1h-1zM428 65h1v1h-1zM432 65h1v1h-1zM436 65h1v1h-1zM440 65h1v1h-1zM444 65h1v1h-1zM448 65h1v1h-1zM452 65h1v1h-1zM456 65h1v1h-1zM460 65h1v1h-1zM464 65h1v1h-1zM468 65h1v1h-1zM472 65h1v1h-1zM476 65h1v1h-1zM480 65h1v1h-1zM484 65h1v1h-1zM488 65h1v1h-1zM492 65h1v1h-1zM496 65h1v1h-1zM500 65h1v1h-1zM504 65h1v1h-1zM508 65h1v1h-1zM512 65h1v1h-1zM516 65h1v1h-1zM520 65h1v1h-1zM524 65h1v1h-1zM528 65h1v1h-1zM532 65h1v1h-1zM536 65h1v1h-1zM540 65h1v1h-1zM544 65h1v1h-1zM548 65h1v1h-1zM552 65h1v1h-1zM556 65h1v1h-1zM560 65h1v1h-1zM564 65h1v1h-1zM568 65h1v1h-1zM37 42h1v1h-1zM41 42h1v1h-1zM45 42h1v1h-1zM49 42h1v1h-1zM53 42h1v1h-1zM57 42h1v1h-1zM61 42h1v1h-1zM65 42h1v1h-1zM69 42h1v1h-1zM73 42h1v1h-1zM77 42h1v1h-1zM81 42h1v1h-1zM85 42h1v1h-1zM89 42h1v1h-1zM93 42h1v1h-1zM97 42h1v1h-1zM101 42h1v1h-1zM105 42h1v1h-1zM109 42h1v1h-1zM113 42h1v1h-1zM117 42h1v1h-1zM121 42h1v1h-1zM125 42h1v1h-1zM129 42h1v1h-1zM133 42h1v1h-1zM137 42h1v1h-1zM141 42h1v1h-1zM145 42h1v1h-1zM149 42h1v1h-1zM153 42h1v1h-1zM157 42h1v1h-1zM161 42h1v1h-1zM165 42h1v1h-1zM169 42h1v1h-1zM173 42h1v1h-1zM177 42h1v1h-1zM181 42h1v1h-1zM185 42h1v1h-1zM189 42h1v1h-1zM193 42h1v1h-1zM197 42h1v1h-1zM201 42h1v1h-1zM205 42h1v1h-1zM209 42h1v1h-1zM213 42h1v1h-1zM217 42h1v1h-1zM221 42h1v1h-1zM225 42h1v1h-1zM229 42h1v1h-1zM233 42h1v1h-1zM237 42h1v1h-1zM241 42h1v1h-1zM245 42h1v1h-1zM249 42h1v1h-1zM253 42h1v1h-1zM257 42h1v1h-1zM261 42h1v1h-1zM265 42h1v1h-1zM269 42h1v1h-1zM273 42h1v1h-1zM277 42h1v1h-1zM281 42h1v1h-1zM285 42h1v1h-1zM289 42h1v1h-1zM293 42h1v1h-1zM297 42h1v1h-1zM301 42h1v1h-1zM305 42h1v1h-1zM309 42h1v1h-1zM313 42h1v1h-1zM317 42h1v1h-1zM321 42h1v1h-1zM325 42h1v1h-1zM329 42h1v1h-1zM333 42h1v1h-1zM337 42h1v1h-1zM345 42h1v1h-1zM349 42h1v1h-1zM353 42h1v1h-1zM357 42h1v1h-1zM361 42h1v1h-1zM365 42h1v1h-1zM369 42h1v1h-1zM373 42h1v1h-1zM377 42h1v1h-1zM381 42h1v1h-1zM385 42h1v1h-1zM389 42h1v1h-1zM393 42h1v1h-1zM397 42h1v1h-1zM401 42h1v1h-1zM405 42h1v1h-1zM409 42h1v1h-1zM413 42h1v1h-1zM417 42h1v1h-1zM421 42h1v1h-1zM425 42h1v1h-1zM429 42h1v1h-1zM433 42h1v1h-1zM437 42h1v1h-1zM441 42h1v1h-1zM445 42h1v1h-1zM449 42h1v1h-1zM453 42h1v1h-1zM457 42h1v1h-1zM461 42h1v1h-1zM465 42h1v1h-1zM469 42h1v1h-1zM473 42h1v1h-1zM477 42h1v1h-1zM481 42h1v1h-1zM485 42h1v1h-1zM489 42h1v1h-1zM493 42h1v1h-1zM497 42h1v1h-1zM501 42h1v1h-1zM505 42h1v1h-1zM509 42h1v1h-1zM513 42h1v1h-1zM517 42h1v1h-1zM521 42h1v1h-1zM525 42h1v1h-1zM529 42h1v1h-1zM533 42h1v1h-1zM537 42h1v1h-1zM541 42h1v1h-1zM545 42h1v1h-1zM549 42h1v1h-1zM553 42h1v1h-1zM557 42h1v1h-1zM561 42h1v1h-1zM565 42h1v1h-1zM569 42h1v1h-1zM112 196h1v1h-1zM112 192h1v1h-1zM112 188h1v1h-1zM112 184h1v1h-1zM112 180h1v1h-1zM112 176h1v1h-1zM112 172h1v1h-1zM112 168h1v1h-1zM112 164h1v1h-1zM112 160h1v1h-1zM112 156h1v1h-1zM112 152h1v1h-1zM112 148h1v1h-1zM112 144h1v1h-1zM112 140h1v1h-1zM112 136h1v1h-1zM189 227h1v1h-1zM189 223h1v1h-1zM189 219h1v1h-1zM189 215h1v1h-1zM189 211h1v1h-1zM189 207h1v1h-1zM189 203h1v1h-1zM189 199h1v1h-1zM189 195h1v1h-1zM189 191h1v1h-1zM189 187h1v1h-1zM189 183h1v1h-1zM189 179h1v1h-1zM189 175h1v1h-1zM189 171h1v1h-1zM189 167h1v1h-1zM189 163h1v1h-1zM189 159h1v1h-1zM189 155h1v1h-1zM189 151h1v1h-1zM189 147h1v1h-1zM189 143h1v1h-1zM189 139h1v1h-1zM189 135h1v1h-1zM265 218h1v1h-1zM265 214h1v1h-1zM265 210h1v1h-1zM265 206h1v1h-1zM265 202h1v1h-1zM265 198h1v1h-1zM265 194h1v1h-1zM265 190h1v1h-1zM265 186h1v1h-1zM265 182h1v1h-1zM265 178h1v1h-1zM265 174h1v1h-1zM265 170h1v1h-1zM265 166h1v1h-1zM265 162h1v1h-1zM265 158h1v1h-1zM265 154h1v1h-1zM265 150h1v1h-1zM265 146h1v1h-1zM265 142h1v1h-1zM265 138h1v1h-1zM341 209h1v1h-1zM341 205h1v1h-1zM341 201h1v1h-1zM341 197h1v1h-1zM341 193h1v1h-1zM341 189h1v1h-1zM341 185h1v1h-1zM341 181h1v1h-1zM341 177h1v1h-1zM341 173h1v1h-1zM341 169h1v1h-1zM341 165h1v1h-1zM341 161h1v1h-1zM341 157h1v1h-1zM341 153h1v1h-1zM341 149h1v1h-1zM341 145h1v1h-1zM341 141h1v1h-1zM341 137h1v1h-1zM417 196h1v1h-1zM417 192h1v1h-1zM417 188h1v1h-1zM417 184h1v1h-1zM417 180h1v1h-1zM417 176h1v1h-1zM417 172h1v1h-1zM417 168h1v1h-1zM417 164h1v1h-1zM417 160h1v1h-1zM417 156h1v1h-1zM417 152h1v1h-1zM417 148h1v1h-1zM417 144h1v1h-1zM417 140h1v1h-1zM417 136h1v1h-1zM494 219h1v1h-1zM494 215h1v1h-1zM494 211h1v1h-1zM494 207h1v1h-1zM494 203h1v1h-1zM494 199h1v1h-1zM494 195h1v1h-1zM494 191h1v1h-1zM494 187h1v1h-1zM494 183h1v1h-1zM494 179h1v1h-1zM494 175h1v1h-1zM494 171h1v1h-1zM494 167h1v1h-1zM494 163h1v1h-1zM494 159h1v1h-1zM494 155h1v1h-1zM494 151h1v1h-1zM494 147h1v1h-1zM494 143h1v1h-1zM494 139h1v1h-1zM494 135h1v1h-1zM37 188h1v1h-1zM41 188h1v1h-1zM45 188h1v1h-1zM49 188h1v1h-1zM53 188h1v1h-1zM57 188h1v1h-1zM61 188h1v1h-1zM65 188h1v1h-1zM69 188h1v1h-1zM73 188h1v1h-1zM77 188h1v1h-1zM81 188h1v1h-1zM85 188h1v1h-1zM89 188h1v1h-1zM93 188h1v1h-1zM97 188h1v1h-1zM101 188h1v1h-1zM105 188h1v1h-1zM109 188h1v1h-1zM113 188h1v1h-1zM117 188h1v1h-1zM121 188h1v1h-1zM125 188h1v1h-1zM129 188h1v1h-1zM133 188h1v1h-1zM137 188h1v1h-1zM141 188h1v1h-1zM145 188h1v1h-1zM149 188h1v1h-1zM153 188h1v1h-1zM157 188h1v1h-1zM161 188h1v1h-1zM165 188h1v1h-1zM169 188h1v1h-1zM173 188h1v1h-1zM177 188h1v1h-1zM181 188h1v1h-1zM185 188h1v1h-1zM189 188h1v1h-1zM193 188h1v1h-1zM197 188h1v1h-1zM201 188h1v1h-1zM205 188h1v1h-1zM209 188h1v1h-1zM213 188h1v1h-1zM217 188h1v1h-1zM221 188h1v1h-1zM225 188h1v1h-1zM229 188h1v1h-1zM233 188h1v1h-1zM237 188h1v1h-1zM241 188h1v1h-1zM245 188h1v1h-1zM249 188h1v1h-1zM253 188h1v1h-1zM257 188h1v1h-1zM261 188h1v1h-1zM265 188h1v1h-1zM269 188h1v1h-1zM273 188h1v1h-1zM277 188h1v1h-1zM281 188h1v1h-1zM285 188h1v1h-1zM289 188h1v1h-1zM293 188h1v1h-1zM297 188h1v1h-1zM301 188h1v1h-1zM305 188h1v1h-1zM309 188h1v1h-1zM313 188h1v1h-1zM317 188h1v1h-1zM321 188h1v1h-1zM325 188h1v1h-1zM329 188h1v1h-1zM333 188h1v1h-1zM337 188h1v1h-1zM341 188h1v1h-1zM345 188h1v1h-1zM349 188h1v1h-1zM353 188h1v1h-1zM357 188h1v1h-1zM373 188h1v1h-1zM377 188h1v1h-1zM381 188h1v1h-1zM385 188h1v1h-1zM389 188h1v1h-1zM393 188h1v1h-1zM397 188h1v1h-1zM401 188h1v1h-1zM405 188h1v1h-1zM409 188h1v1h-1zM413 188h1v1h-1zM421 188h1v1h-1zM425 188h1v1h-1zM429 188h1v1h-1zM433 188h1v1h-1zM437 188h1v1h-1zM441 188h1v1h-1zM445 188h1v1h-1zM449 188h1v1h-1zM453 188h1v1h-1zM457 188h1v1h-1zM461 188h1v1h-1zM465 188h1v1h-1zM469 188h1v1h-1zM473 188h1v1h-1zM477 188h1v1h-1zM481 188h1v1h-1zM485 188h1v1h-1zM489 188h1v1h-1zM493 188h1v1h-1zM497 188h1v1h-1zM501 188h1v1h-1zM505 188h1v1h-1zM509 188h1v1h-1zM513 188h1v1h-1zM517 188h1v1h-1zM521 188h1v1h-1zM525 188h1v1h-1zM529 188h1v1h-1zM533 188h1v1h-1zM537 188h1v1h-1zM541 188h1v1h-1zM545 188h1v1h-1zM549 188h1v1h-1zM553 188h1v1h-1zM557 188h1v1h-1zM561 188h1v1h-1zM565 188h1v1h-1zM569 188h1v1h-1zM38 177h1v1h-1zM42 177h1v1h-1zM46 177h1v1h-1zM50 177h1v1h-1zM54 177h1v1h-1zM58 177h1v1h-1zM62 177h1v1h-1zM66 177h1v1h-1zM70 177h1v1h-1zM74 177h1v1h-1zM78 177h1v1h-1zM82 177h1v1h-1zM86 177h1v1h-1zM90 177h1v1h-1zM94 177h1v1h-1zM98 177h1v1h-1zM102 177h1v1h-1zM106 177h1v1h-1zM110 177h1v1h-1zM114 177h1v1h-1zM118 177h1v1h-1zM122 177h1v1h-1zM126 177h1v1h-1zM130 177h1v1h-1zM134 177h1v1h-1zM138 177h1v1h-1zM142 177h1v1h-1zM146 177h1v1h-1zM150 177h1v1h-1zM154 177h1v1h-1zM158 177h1v1h-1zM162 177h1v1h-1zM166 177h1v1h-1zM170 177h1v1h-1zM174 177h1v1h-1zM178 177h1v1h-1zM182 177h1v1h-1zM186 177h1v1h-1zM190 177h1v1h-1zM194 177h1v1h-1zM198 177h1v1h-1zM202 177h1v1h-1zM206 177h1v1h-1zM210 177h1v1h-1zM214 177h1v1h-1zM218 177h1v1h-1zM222 177h1v1h-1zM226 177h1v1h-1zM230 177h1v1h-1zM234 177h1v1h-1zM238 177h1v1h-1zM242 177h1v1h-1zM246 177h1v1h-1zM250 177h1v1h-1zM254 177h1v1h-1zM258 177h1v1h-1zM262 177h1v1h-1zM266 177h1v1h-1zM270 177h1v1h-1zM274 177h1v1h-1zM278 177h1v1h-1zM282 177h1v1h-1zM286 177h1v1h-1zM290 177h1v1h-1zM294 177h1v1h-1zM298 177h1v1h-1zM302 177h1v1h-1zM306 177h1v1h-1zM310 177h1v1h-1zM314 177h1v1h-1zM318 177h1v1h-1zM322 177h1v1h-1zM326 177h1v1h-1zM330 177h1v1h-1zM334 177h1v1h-1zM338 177h1v1h-1zM342 177h1v1h-1zM346 177h1v1h-1zM350 177h1v1h-1zM354 177h1v1h-1zM358 177h1v1h-1zM362 177h1v1h-1zM366 177h1v1h-1zM370 177h1v1h-1zM374 177h1v1h-1zM378 177h1v1h-1zM382 177h1v1h-1zM386 177h1v1h-1zM390 177h1v1h-1zM394 177h1v1h-1zM398 177h1v1h-1zM402 177h1v1h-1zM406 177h1v1h-1zM410 177h1v1h-1zM414 177h1v1h-1zM418 177h1v1h-1zM422 177h1v1h-1zM426 177h1v1h-1zM430 177h1v1h-1zM434 177h1v1h-1zM438 177h1v1h-1zM442 177h1v1h-1zM446 177h1v1h-1zM450 177h1v1h-1zM454 177h1v1h-1zM458 177h1v1h-1zM462 177h1v1h-1zM466 177h1v1h-1zM470 177h1v1h-1zM474 177h1v1h-1zM478 177h1v1h-1zM482 177h1v1h-1zM486 177h1v1h-1zM490 177h1v1h-1zM494 177h1v1h-1zM498 177h1v1h-1zM502 177h1v1h-1zM506 177h1v1h-1zM510 177h1v1h-1zM514 177h1v1h-1zM518 177h1v1h-1zM522 177h1v1h-1zM526 177h1v1h-1zM530 177h1v1h-1zM534 177h1v1h-1zM538 177h1v1h-1zM542 177h1v1h-1zM546 177h1v1h-1zM550 177h1v1h-1zM554 177h1v1h-1zM558 177h1v1h-1zM562 177h1v1h-1zM566 177h1v1h-1zM39 154h1v1h-1zM43 154h1v1h-1zM47 154h1v1h-1zM51 154h1v1h-1zM55 154h1v1h-1zM59 154h1v1h-1zM63 154h1v1h-1zM67 154h1v1h-1zM71 154h1v1h-1zM75 154h1v1h-1zM79 154h1v1h-1zM83 154h1v1h-1zM87 154h1v1h-1zM91 154h1v1h-1zM95 154h1v1h-1zM99 154h1v1h-1zM103 154h1v1h-1zM107 154h1v1h-1zM111 154h1v1h-1zM115 154h1v1h-1zM119 154h1v1h-1zM123 154h1v1h-1zM127 154h1v1h-1zM131 154h1v1h-1zM135 154h1v1h-1zM139 154h1v1h-1zM143 154h1v1h-1zM147 154h1v1h-1zM151 154h1v1h-1zM155 154h1v1h-1zM159 154h1v1h-1zM163 154h1v1h-1zM167 154h1v1h-1zM171 154h1v1h-1zM175 154h1v1h-1zM179 154h1v1h-1zM183 154h1v1h-1zM187 154h1v1h-1zM191 154h1v1h-1zM195 154h1v1h-1zM199 154h1v1h-1zM203 154h1v1h-1zM207 154h1v1h-1zM211 154h1v1h-1zM215 154h1v1h-1zM219 154h1v1h-1zM223 154h1v1h-1zM227 154h1v1h-1zM231 154h1v1h-1zM235 154h1v1h-1zM239 154h1v1h-1zM243 154h1v1h-1zM247 154h1v1h-1zM251 154h1v1h-1zM255 154h1v1h-1zM259 154h1v1h-1zM263 154h1v1h-1zM267 154h1v1h-1zM271 154h1v1h-1zM275 154h1v1h-1zM279 154h1v1h-1zM283 154h1v1h-1zM287 154h1v1h-1zM291 154h1v1h-1zM295 154h1v1h-1zM299 154h1v1h-1zM303 154h1v1h-1zM307 154h1v1h-1zM311 154h1v1h-1zM315 154h1v1h-1zM319 154h1v1h-1zM323 154h1v1h-1zM327 154h1v1h-1zM331 154h1v1h-1zM335 154h1v1h-1zM339 154h1v1h-1zM343 154h1v1h-1zM347 154h1v1h-1zM351 154h1v1h-1zM355 154h1v1h-1zM359 154h1v1h-1zM363 154h1v1h-1zM367 154h1v1h-1zM371 154h1v1h-1zM375 154h1v1h-1zM379 154h1v1h-1zM383 154h1v1h-1zM387 154h1v1h-1zM391 154h1v1h-1zM395 154h1v1h-1zM399 154h1v1h-1zM403 154h1v1h-1zM407 154h1v1h-1zM411 154h1v1h-1zM415 154h1v1h-1zM419 154h1v1h-1zM423 154h1v1h-1zM427 154h1v1h-1zM431 154h1v1h-1zM435 154h1v1h-1zM439 154h1v1h-1zM443 154h1v1h-1zM447 154h1v1h-1zM451 154h1v1h-1zM455 154h1v1h-1zM459 154h1v1h-1zM463 154h1v1h-1zM467 154h1v1h-1zM471 154h1v1h-1zM475 154h1v1h-1zM479 154h1v1h-1zM483 154h1v1h-1zM487 154h1v1h-1zM491 154h1v1h-1zM495 154h1v1h-1zM499 154h1v1h-1zM503 154h1v1h-1zM507 154h1v1h-1zM511 154h1v1h-1zM515 154h1v1h-1zM519 154h1v1h-1zM523 154h1v1h-1zM527 154h1v1h-1zM531 154h1v1h-1zM535 154h1v1h-1zM539 154h1v1h-1zM543 154h1v1h-1zM547 154h1v1h-1zM551 154h1v1h-1zM555 154h1v1h-1zM559 154h1v1h-1zM563 154h1v1h-1zM567 154h1v1h-1zM112 310h1v1h-1zM112 306h1v1h-1zM112 302h1v1h-1zM112 298h1v1h-1zM112 294h1v1h-1zM112 290h1v1h-1zM112 286h1v1h-1zM112 282h1v1h-1zM112 278h1v1h-1zM112 274h1v1h-1zM112 270h1v1h-1zM112 266h1v1h-1zM112 262h1v1h-1zM112 258h1v1h-1zM112 254h1v1h-1zM112 250h1v1h-1zM189 333h1v1h-1zM189 329h1v1h-1zM189 325h1v1h-1zM189 321h1v1h-1zM189 317h1v1h-1zM189 313h1v1h-1zM189 309h1v1h-1zM189 305h1v1h-1zM189 301h1v1h-1zM189 297h1v1h-1zM189 293h1v1h-1zM189 289h1v1h-1zM189 285h1v1h-1zM189 281h1v1h-1zM189 277h1v1h-1zM189 273h1v1h-1zM189 269h1v1h-1zM189 265h1v1h-1zM189 261h1v1h-1zM189 257h1v1h-1zM189 253h1v1h-1zM189 249h1v1h-1zM265 332h1v1h-1zM265 328h1v1h-1zM265 324h1v1h-1zM265 320h1v1h-1zM265 316h1v1h-1zM265 312h1v1h-1zM265 308h1v1h-1zM265 304h1v1h-1zM265 300h1v1h-1zM265 296h1v1h-1zM265 292h1v1h-1zM265 288h1v1h-1zM265 284h1v1h-1zM265 280h1v1h-1zM265 276h1v1h-1zM265 272h1v1h-1zM265 268h1v1h-1zM265 264h1v1h-1zM265 260h1v1h-1zM265 256h1v1h-1zM265 252h1v1h-1zM265 248h1v1h-1zM341 311h1v1h-1zM341 307h1v1h-1zM341 303h1v1h-1zM341 299h1v1h-1zM341 295h1v1h-1zM341 291h1v1h-1zM341 287h1v1h-1zM341 283h1v1h-1zM341 279h1v1h-1zM341 275h1v1h-1zM341 271h1v1h-1zM341 267h1v1h-1zM341 263h1v1h-1zM341 259h1v1h-1zM341 255h1v1h-1zM341 251h1v1h-1zM341 247h1v1h-1zM417 310h1v1h-1zM417 306h1v1h-1zM417 302h1v1h-1zM417 298h1v1h-1zM417 294h1v1h-1zM417 290h1v1h-1zM417 286h1v1h-1zM417 282h1v1h-1zM417 278h1v1h-1zM417 274h1v1h-1zM417 270h1v1h-1zM417 266h1v1h-1zM417 262h1v1h-1zM417 258h1v1h-1zM417 254h1v1h-1zM417 250h1v1h-1zM494 333h1v1h-1zM494 329h1v1h-1zM494 325h1v1h-1zM494 321h1v1h-1zM494 317h1v1h-1zM494 313h1v1h-1zM494 309h1v1h-1zM494 305h1v1h-1zM494 301h1v1h-1zM494 297h1v1h-1zM494 293h1v1h-1zM494 289h1v1h-1zM494 285h1v1h-1zM494 281h1v1h-1zM494 277h1v1h-1zM494 273h1v1h-1zM494 269h1v1h-1zM494 265h1v1h-1zM494 261h1v1h-1zM494 257h1v1h-1zM494 253h1v1h-1zM494 249h1v1h-1zM39 300h1v1h-1zM43 300h1v1h-1zM47 300h1v1h-1zM51 300h1v1h-1zM55 300h1v1h-1zM59 300h1v1h-1zM63 300h1v1h-1zM67 300h1v1h-1zM71 300h1v1h-1zM75 300h1v1h-1zM79 300h1v1h-1zM83 300h1v1h-1zM87 300h1v1h-1zM91 300h1v1h-1zM95 300h1v1h-1zM99 300h1v1h-1zM103 300h1v1h-1zM107 300h1v1h-1zM111 300h1v1h-1zM115 300h1v1h-1zM119 300h1v1h-1zM123 300h1v1h-1zM127 300h1v1h-1zM131 300h1v1h-1zM135 300h1v1h-1zM139 300h1v1h-1zM143 300h1v1h-1zM147 300h1v1h-1zM151 300h1v1h-1zM155 300h1v1h-1zM159 300h1v1h-1zM163 300h1v1h-1zM167 300h1v1h-1zM171 300h1v1h-1zM175 300h1v1h-1zM179 300h1v1h-1zM183 300h1v1h-1zM187 300h1v1h-1zM191 300h1v1h-1zM195 300h1v1h-1zM199 300h1v1h-1zM203 300h1v1h-1zM207 300h1v1h-1zM211 300h1v1h-1zM215 300h1v1h-1zM219 300h1v1h-1zM223 300h1v1h-1zM227 300h1v1h-1zM231 300h1v1h-1zM235 300h1v1h-1zM239 300h1v1h-1zM243 300h1v1h-1zM247 300h1v1h-1zM251 300h1v1h-1zM255 300h1v1h-1zM259 300h1v1h-1zM263 300h1v1h-1zM267 300h1v1h-1zM271 300h1v1h-1zM275 300h1v1h-1zM279 300h1v1h-1zM283 300h1v1h-1zM287 300h1v1h-1zM291 300h1v1h-1zM295 300h1v1h-1zM299 300h1v1h-1zM303 300h1v1h-1zM307 300h1v1h-1zM311 300h1v1h-1zM315 300h1v1h-1zM319 300h1v1h-1zM323 300h1v1h-1zM327 300h1v1h-1zM331 300h1v1h-1zM335 300h1v1h-1zM339 300h1v1h-1zM343 300h1v1h-1zM347 300h1v1h-1zM351 300h1v1h-1zM355 300h1v1h-1zM359 300h1v1h-1zM371 300h1v1h-1zM375 300h1v1h-1zM379 300h1v1h-1zM383 300h1v1h-1zM387 300h1v1h-1zM391 300h1v1h-1zM395 300h1v1h-1zM399 300h1v1h-1zM403 300h1v1h-1zM407 300h1v1h-1zM411 300h1v1h-1zM415 300h1v1h-1zM419 300h1v1h-1zM423 300h1v1h-1zM427 300h1v1h-1zM431 300h1v1h-1zM435 300h1v1h-1zM439 300h1v1h-1zM443 300h1v1h-1zM447 300h1v1h-1zM451 300h1v1h-1zM455 300h1v1h-1zM459 300h1v1h-1zM463 300h1v1h-1zM467 300h1v1h-1zM471 300h1v1h-1zM475 300h1v1h-1zM479 300h1v1h-1zM483 300h1v1h-1zM487 300h1v1h-1zM491 300h1v1h-1zM495 300h1v1h-1zM499 300h1v1h-1zM503 300h1v1h-1zM507 300h1v1h-1zM511 300h1v1h-1zM515 300h1v1h-1zM519 300h1v1h-1zM523 300h1v1h-1zM527 300h1v1h-1zM531 300h1v1h-1zM535 300h1v1h-1zM539 300h1v1h-1zM543 300h1v1h-1zM547 300h1v1h-1zM551 300h1v1h-1zM555 300h1v1h-1zM559 300h1v1h-1zM563 300h1v1h-1zM567 300h1v1h-1zM40 289h1v1h-1zM44 289h1v1h-1zM48 289h1v1h-1zM52 289h1v1h-1zM56 289h1v1h-1zM60 289h1v1h-1zM64 289h1v1h-1zM68 289h1v1h-1zM72 289h1v1h-1zM76 289h1v1h-1zM80 289h1v1h-1zM84 289h1v1h-1zM88 289h1v1h-1zM92 289h1v1h-1zM96 289h1v1h-1zM100 289h1v1h-1zM104 289h1v1h-1zM108 289h1v1h-1zM112 289h1v1h-1zM116 289h1v1h-1zM120 289h1v1h-1zM124 289h1v1h-1zM128 289h1v1h-1zM132 289h1v1h-1zM136 289h1v1h-1zM140 289h1v1h-1zM144 289h1v1h-1zM148 289h1v1h-1zM152 289h1v1h-1zM156 289h1v1h-1zM160 289h1v1h-1zM164 289h1v1h-1zM168 289h1v1h-1zM172 289h1v1h-1zM176 289h1v1h-1zM180 289h1v1h-1zM184 289h1v1h-1zM188 289h1v1h-1zM192 289h1v1h-1zM196 289h1v1h-1zM200 289h1v1h-1zM204 289h1v1h-1zM208 289h1v1h-1zM212 289h1v1h-1zM216 289h1v1h-1zM220 289h1v1h-1zM224 289h1v1h-1zM228 289h1v1h-1zM232 289h1v1h-1zM236 289h1v1h-1zM240 289h1v1h-1zM244 289h1v1h-1zM248 289h1v1h-1zM252 289h1v1h-1zM256 289h1v1h-1zM260 289h1v1h-1zM264 289h1v1h-1zM268 289h1v1h-1zM272 289h1v1h-1zM276 289h1v1h-1zM280 289h1v1h-1zM284 289h1v1h-1zM288 289h1v1h-1zM292 289h1v1h-1zM296 289h1v1h-1zM300 289h1v1h-1zM304 289h1v1h-1zM308 289h1v1h-1zM312 289h1v1h-1zM316 289h1v1h-1zM320 289h1v1h-1zM324 289h1v1h-1zM328 289h1v1h-1zM332 289h1v1h-1zM336 289h1v1h-1zM340 289h1v1h-1zM344 289h1v1h-1zM348 289h1v1h-1zM352 289h1v1h-1zM356 289h1v1h-1zM360 289h1v1h-1zM364 289h1v1h-1zM368 289h1v1h-1zM372 289h1v1h-1zM376 289h1v1h-1zM380 289h1v1h-1zM384 289h1v1h-1zM388 289h1v1h-1zM392 289h1v1h-1zM396 289h1v1h-1zM400 289h1v1h-1zM404 289h1v1h-1zM408 289h1v1h-1zM412 289h1v1h-1zM416 289h1v1h-1zM420 289h1v1h-1zM424 289h1v1h-1zM428 289h1v1h-1zM432 289h1v1h-1zM436 289h1v1h-1zM440 289h1v1h-1zM444 289h1v1h-1zM448 289h1v1h-1zM452 289h1v1h-1zM456 289h1v1h-1zM460 289h1v1h-1zM464 289h1v1h-1zM468 289h1v1h-1zM472 289h1v1h-1zM476 289h1v1h-1zM480 289h1v1h-1zM484 289h1v1h-1zM488 289h1v1h-1zM492 289h1v1h-1zM496 289h1v1h-1zM500 289h1v1h-1zM504 289h1v1h-1zM508 289h1v1h-1zM512 289h1v1h-1zM516 289h1v1h-1zM520 289h1v1h-1zM524 289h1v1h-1zM528 289h1v1h-1zM532 289h1v1h-1zM536 289h1v1h-1zM540 289h1v1h-1zM544 289h1v1h-1zM548 289h1v1h-1zM552 289h1v1h-1zM556 289h1v1h-1zM560 289h1v1h-1zM564 289h1v1h-1zM568 289h1v1h-1zM37 266h1v1h-1zM41 266h1v1h-1zM45 266h1v1h-1zM49 266h1v1h-1zM53 266h1v1h-1zM57 266h1v1h-1zM61 266h1v1h-1zM65 266h1v1h-1zM69 266h1v1h-1zM73 266h1v1h-1zM77 266h1v1h-1zM81 266h1v1h-1zM85 266h1v1h-1zM89 266h1v1h-1zM93 266h1v1h-1zM97 266h1v1h-1zM101 266h1v1h-1zM105 266h1v1h-1zM109 266h1v1h-1zM113 266h1v1h-1zM117 266h1v1h-1zM121 266h1v1h-1zM125 266h1v1h-1zM129 266h1v1h-1zM133 266h1v1h-1zM137 266h1v1h-1zM141 266h1v1h-1zM145 266h1v1h-1zM149 266h1v1h-1zM153 266h1v1h-1zM157 266h1v1h-1zM161 266h1v1h-1zM165 266h1v1h-1zM169 266h1v1h-1zM173 266h1v1h-1zM177 266h1v1h-1zM181 266h1v1h-1zM185 266h1v1h-1zM189 266h1v1h-1zM193 266h1v1h-1zM197 266h1v1h-1zM201 266h1v1h-1zM205 266h1v1h-1zM209 266h1v1h-1zM213 266h1v1h-1zM217 266h1v1h-1zM221 266h1v1h-1zM225 266h1v1h-1zM229 266h1v1h-1zM233 266h1v1h-1zM237 266h1v1h-1zM241 266h1v1h-1zM245 266h1v1h-1zM249 266h1v1h-1zM253 266h1v1h-1zM257 266h1v1h-1zM261 266h1v1h-1zM265 266h1v1h-1zM269 266h1v1h-1zM273 266h1v1h-1zM277 266h1v1h-1zM281 266h1v1h-1zM285 266h1v1h-1zM289 266h1v1h-1zM293 266h1v1h-1zM297 266h1v1h-1zM301 266h1v1h-1zM305 266h1v1h-1zM309 266h1v1h-1zM313 266h1v1h-1zM317 266h1v1h-1zM321 266h1v1h-1zM325 266h1v1h-1zM329 266h1v1h-1zM333 266h1v1h-1zM337 266h1v1h-1zM341 266h1v1h-1zM345 266h1v1h-1zM349 266h1v1h-1zM353 266h1v1h-1zM357 266h1v1h-1zM361 266h1v1h-1zM365 266h1v1h-1zM369 266h1v1h-1zM373 266h1v1h-1zM377 266h1v1h-1zM381 266h1v1h-1zM385 266h1v1h-1zM389 266h1v1h-1zM393 266h1v1h-1zM397 266h1v1h-1zM401 266h1v1h-1zM405 266h1v1h-1zM409 266h1v1h-1zM413 266h1v1h-1zM421 266h1v1h-1zM425 266h1v1h-1zM429 266h1v1h-1zM433 266h1v1h-1zM437 266h1v1h-1zM441 266h1v1h-1zM445 266h1v1h-1zM449 266h1v1h-1zM453 266h1v1h-1zM457 266h1v1h-1zM461 266h1v1h-1zM465 266h1v1h-1zM469 266h1v1h-1zM473 266h1v1h-1zM477 266h1v1h-1zM481 266h1v1h-1zM485 266h1v1h-1zM489 266h1v1h-1zM493 266h1v1h-1zM497 266h1v1h-1zM501 266h1v1h-1zM505 266h1v1h-1zM509 266h1v1h-1zM513 266h1v1h-1zM517 266h1v1h-1zM521 266h1v1h-1zM525 266h1v1h-1zM529 266h1v1h-1zM533 266h1v1h-1zM537 266h1v1h-1zM541 266h1v1h-1zM545 266h1v1h-1zM549 266h1v1h-1zM553 266h1v1h-1zM557 266h1v1h-1zM561 266h1v1h-1zM565 266h1v1h-1zM569 266h1v1h-1zM112 432h1v1h-1zM112 428h1v1h-1zM112 424h1v1h-1zM112 420h1v1h-1zM112 416h1v1h-1zM112 412h1v1h-1zM112 408h1v1h-1zM112 404h1v1h-1zM112 400h1v1h-1zM112 396h1v1h-1zM112 392h1v1h-1zM112 388h1v1h-1zM112 384h1v1h-1zM112 380h1v1h-1zM112 376h1v1h-1zM112 372h1v1h-1zM112 368h1v1h-1zM112 364h1v1h-1zM112 360h1v1h-1zM189 455h1v1h-1zM189 451h1v1h-1zM189 447h1v1h-1zM189 443h1v1h-1zM189 439h1v1h-1zM189 435h1v1h-1zM189 431h1v1h-1zM189 427h1v1h-1zM189 423h1v1h-1zM189 419h1v1h-1zM189 415h1v1h-1zM189 411h1v1h-1zM189 407h1v1h-1zM189 403h1v1h-1zM189 399h1v1h-1zM189 395h1v1h-1zM189 391h1v1h-1zM189 387h1v1h-1zM189 383h1v1h-1zM189 379h1v1h-1zM189 375h1v1h-1zM189 371h1v1h-1zM189 367h1v1h-1zM189 363h1v1h-1zM189 359h1v1h-1zM265 454h1v1h-1zM265 450h1v1h-1zM265 446h1v1h-1zM265 442h1v1h-1zM265 438h1v1h-1zM265 434h1v1h-1zM265 430h1v1h-1zM265 426h1v1h-1zM265 422h1v1h-1zM265 418h1v1h-1zM265 414h1v1h-1zM265 410h1v1h-1zM265 406h1v1h-1zM265 402h1v1h-1zM265 398h1v1h-1zM265 394h1v1h-1zM265 390h1v1h-1zM265 386h1v1h-1zM265 382h1v1h-1zM265 378h1v1h-1zM265 374h1v1h-1zM265 370h1v1h-1zM265 366h1v1h-1zM265 362h1v1h-1zM341 445h1v1h-1zM341 441h1v1h-1zM341 437h1v1h-1zM341 433h1v1h-1zM341 429h1v1h-1zM341 425h1v1h-1zM341 421h1v1h-1zM341 417h1v1h-1zM341 413h1v1h-1zM341 409h1v1h-1zM341 405h1v1h-1zM341 401h1v1h-1zM341 397h1v1h-1zM341 393h1v1h-1zM341 389h1v1h-1zM341 385h1v1h-1zM341 381h1v1h-1zM341 377h1v1h-1zM341 373h1v1h-1zM341 369h1v1h-1zM341 365h1v1h-1zM341 361h1v1h-1zM417 444h1v1h-1zM417 440h1v1h-1zM417 436h1v1h-1zM417 432h1v1h-1zM417 428h1v1h-1zM417 424h1v1h-1zM417 420h1v1h-1zM417 416h1v1h-1zM417 412h1v1h-1zM417 408h1v1h-1zM417 404h1v1h-1zM417 400h1v1h-1zM417 396h1v1h-1zM417 392h1v1h-1zM417 388h1v1h-1zM417 384h1v1h-1zM417 380h1v1h-1zM417 376h1v1h-1zM417 372h1v1h-1zM417 368h1v1h-1zM417 364h1v1h-1zM417 360h1v1h-1zM494 455h1v1h-1zM494 451h1v1h-1zM494 447h1v1h-1zM494 443h1v1h-1zM494 439h1v1h-1zM494 435h1v1h-1zM494 431h1v1h-1zM494 427h1v1h-1zM494 423h1v1h-1zM494 419h1v1h-1zM494 415h1v1h-1zM494 411h1v1h-1zM494 407h1v1h-1zM494 403h1v1h-1zM494 399h1v1h-1zM494 395h1v1h-1zM494 391h1v1h-1zM494 387h1v1h-1zM494 383h1v1h-1zM494 379h1v1h-1zM494 375h1v1h-1zM494 371h1v1h-1zM494 367h1v1h-1zM494 363h1v1h-1zM494 359h1v1h-1zM37 413h1v1h-1zM41 413h1v1h-1zM45 413h1v1h-1zM49 413h1v1h-1zM53 413h1v1h-1zM57 413h1v1h-1zM61 413h1v1h-1zM65 413h1v1h-1zM69 413h1v1h-1zM73 413h1v1h-1zM77 413h1v1h-1zM81 413h1v1h-1zM85 413h1v1h-1zM89 413h1v1h-1zM93 413h1v1h-1zM97 413h1v1h-1zM101 413h1v1h-1zM105 413h1v1h-1zM109 413h1v1h-1zM113 413h1v1h-1zM117 413h1v1h-1zM121 413h1v1h-1zM133 413h1v1h-1zM137 413h1v1h-1zM141 413h1v1h-1zM145 413h1v1h-1zM149 413h1v1h-1zM153 413h1v1h-1zM157 413h1v1h-1zM161 413h1v1h-1zM165 413h1v1h-1zM169 413h1v1h-1zM173 413h1v1h-1zM177 413h1v1h-1zM181 413h1v1h-1zM185 413h1v1h-1zM189 413h1v1h-1zM193 413h1v1h-1zM197 413h1v1h-1zM201 413h1v1h-1zM205 413h1v1h-1zM209 413h1v1h-1zM213 413h1v1h-1zM217 413h1v1h-1zM221 413h1v1h-1zM225 413h1v1h-1zM229 413h1v1h-1zM233 413h1v1h-1zM237 413h1v1h-1zM241 413h1v1h-1zM245 413h1v1h-1zM249 413h1v1h-1zM253 413h1v1h-1zM257 413h1v1h-1zM261 413h1v1h-1zM265 413h1v1h-1zM269 413h1v1h-1zM273 413h1v1h-1zM277 413h1v1h-1zM281 413h1v1h-1zM285 413h1v1h-1zM289 413h1v1h-1zM293 413h1v1h-1zM297 413h1v1h-1zM301 413h1v1h-1zM305 413h1v1h-1zM309 413h1v1h-1zM313 413h1v1h-1zM317 413h1v1h-1zM321 413h1v1h-1zM325 413h1v1h-1zM329 413h1v1h-1zM333 413h1v1h-1zM337 413h1v1h-1zM345 413h1v1h-1zM349 413h1v1h-1zM353 413h1v1h-1zM357 413h1v1h-1zM393 413h1v1h-1zM397 413h1v1h-1zM401 413h1v1h-1zM405 413h1v1h-1zM409 413h1v1h-1zM413 413h1v1h-1zM417 413h1v1h-1zM421 413h1v1h-1zM425 413h1v1h-1zM429 413h1v1h-1zM433 413h1v1h-1zM437 413h1v1h-1zM441 413h1v1h-1zM445 413h1v1h-1zM449 413h1v1h-1zM453 413h1v1h-1zM457 413h1v1h-1zM461 413h1v1h-1zM465 413h1v1h-1zM469 413h1v1h-1zM473 413h1v1h-1zM477 413h1v1h-1zM481 413h1v1h-1zM485 413h1v1h-1zM489 413h1v1h-1zM493 413h1v1h-1zM497 413h1v1h-1zM501 413h1v1h-1zM505 413h1v1h-1zM509 413h1v1h-1zM513 413h1v1h-1zM517 413h1v1h-1zM521 413h1v1h-1zM525 413h1v1h-1zM529 413h1v1h-1zM533 413h1v1h-1zM537 413h1v1h-1zM541 413h1v1h-1zM545 413h1v1h-1zM549 413h1v1h-1zM553 413h1v1h-1zM557 413h1v1h-1zM561 413h1v1h-1zM565 413h1v1h-1zM569 413h1v1h-1zM38 401h1v1h-1zM42 401h1v1h-1zM46 401h1v1h-1zM50 401h1v1h-1zM54 401h1v1h-1zM58 401h1v1h-1zM62 401h1v1h-1zM66 401h1v1h-1zM70 401h1v1h-1zM74 401h1v1h-1zM78 401h1v1h-1zM82 401h1v1h-1zM86 401h1v1h-1zM90 401h1v1h-1zM94 401h1v1h-1zM98 401h1v1h-1zM102 401h1v1h-1zM106 401h1v1h-1zM110 401h1v1h-1zM114 401h1v1h-1zM118 401h1v1h-1zM122 401h1v1h-1zM126 401h1v1h-1zM130 401h1v1h-1zM134 401h1v1h-1zM138 401h1v1h-1zM142 401h1v1h-1zM146 401h1v1h-1zM150 401h1v1h-1zM154 401h1v1h-1zM158 401h1v1h-1zM162 401h1v1h-1zM166 401h1v1h-1zM170 401h1v1h-1zM174 401h1v1h-1zM178 401h1v1h-1zM182 401h1v1h-1zM186 401h1v1h-1zM190 401h1v1h-1zM194 401h1v1h-1zM198 401h1v1h-1zM202 401h1v1h-1zM206 401h1v1h-1zM210 401h1v1h-1zM214 401h1v1h-1zM218 401h1v1h-1zM222 401h1v1h-1zM226 401h1v1h-1zM230 401h1v1h-1zM234 401h1v1h-1zM238 401h1v1h-1zM242 401h1v1h-1zM246 401h1v1h-1zM250 401h1v1h-1zM254 401h1v1h-1zM258 401h1v1h-1zM262 401h1v1h-1zM266 401h1v1h-1zM270 401h1v1h-1zM274 401h1v1h-1zM278 401h1v1h-1zM282 401h1v1h-1zM286 401h1v1h-1zM290 401h1v1h-1zM294 401h1v1h-1zM298 401h1v1h-1zM302 401h1v1h-1zM306 401h1v1h-1zM310 401h1v1h-1zM314 401h1v1h-1zM318 401h1v1h-1zM322 401h1v1h-1zM326 401h1v1h-1zM330 401h1v1h-1zM334 401h1v1h-1zM338 401h1v1h-1zM342 401h1v1h-1zM346 401h1v1h-1zM350 401h1v1h-1zM354 401h1v1h-1zM358 401h1v1h-1zM362 401h1v1h-1zM366 401h1v1h-1zM370 401h1v1h-1zM374 401h1v1h-1zM378 401h1v1h-1zM390 401h1v1h-1zM394 401h1v1h-1zM398 401h1v1h-1zM402 401h1v1h-1zM406 401h1v1h-1zM410 401h1v1h-1zM414 401h1v1h-1zM418 401h1v1h-1zM422 401h1v1h-1zM426 401h1v1h-1zM430 401h1v1h-1zM434 401h1v1h-1zM438 401h1v1h-1zM442 401h1v1h-1zM446 401h1v1h-1zM450 401h1v1h-1zM454 401h1v1h-1zM458 401h1v1h-1zM462 401h1v1h-1zM466 401h1v1h-1zM470 401h1v1h-1zM474 401h1v1h-1zM478 401h1v1h-1zM482 401h1v1h-1zM486 401h1v1h-1zM490 401h1v1h-1zM494 401h1v1h-1zM498 401h1v1h-1zM502 401h1v1h-1zM506 401h1v1h-1zM510 401h1v1h-1zM514 401h1v1h-1zM518 401h1v1h-1zM522 401h1v1h-1zM526 401h1v1h-1zM530 401h1v1h-1zM534 401h1v1h-1zM538 401h1v1h-1zM542 401h1v1h-1zM546 401h1v1h-1zM550 401h1v1h-1zM554 401h1v1h-1zM558 401h1v1h-1zM562 401h1v1h-1zM566 401h1v1h-1zM39 379h1v1h-1zM43 379h1v1h-1zM47 379h1v1h-1zM51 379h1v1h-1zM55 379h1v1h-1zM59 379h1v1h-1zM63 379h1v1h-1zM67 379h1v1h-1zM71 379h1v1h-1zM75 379h1v1h-1zM79 379h1v1h-1zM83 379h1v1h-1zM87 379h1v1h-1zM91 379h1v1h-1zM95 379h1v1h-1zM99 379h1v1h-1zM103 379h1v1h-1zM107 379h1v1h-1zM111 379h1v1h-1zM115 379h1v1h-1zM119 379h1v1h-1zM123 379h1v1h-1zM127 379h1v1h-1zM131 379h1v1h-1zM135 379h1v1h-1zM139 379h1v1h-1zM143 379h1v1h-1zM147 379h1v1h-1zM151 379h1v1h-1zM155 379h1v1h-1zM159 379h1v1h-1zM163 379h1v1h-1zM167 379h1v1h-1zM171 379h1v1h-1zM175 379h1v1h-1zM179 379h1v1h-1zM183 379h1v1h-1zM187 379h1v1h-1zM191 379h1v1h-1zM195 379h1v1h-1zM199 379h1v1h-1zM203 379h1v1h-1zM207 379h1v1h-1zM211 379h1v1h-1zM215 379h1v1h-1zM219 379h1v1h-1zM223 379h1v1h-1zM227 379h1v1h-1zM231 379h1v1h-1zM235 379h1v1h-1zM239 379h1v1h-1zM243 379h1v1h-1zM247 379h1v1h-1zM251 379h1v1h-1zM255 379h1v1h-1zM259 379h1v1h-1zM263 379h1v1h-1zM267 379h1v1h-1zM271 379h1v1h-1zM275 379h1v1h-1zM279 379h1v1h-1zM283 379h1v1h-1zM287 379h1v1h-1zM291 379h1v1h-1zM295 379h1v1h-1zM299 379h1v1h-1zM303 379h1v1h-1zM307 379h1v1h-1zM311 379h1v1h-1zM315 379h1v1h-1zM319 379h1v1h-1zM323 379h1v1h-1zM327 379h1v1h-1zM331 379h1v1h-1zM335 379h1v1h-1zM339 379h1v1h-1zM343 379h1v1h-1zM347 379h1v1h-1zM351 379h1v1h-1zM355 379h1v1h-1zM359 379h1v1h-1zM363 379h1v1h-1zM367 379h1v1h-1zM371 379h1v1h-1zM375 379h1v1h-1zM379 379h1v1h-1zM383 379h1v1h-1zM387 379h1v1h-1zM391 379h1v1h-1zM395 379h1v1h-1zM399 379h1v1h-1zM403 379h1v1h-1zM407 379h1v1h-1zM411 379h1v1h-1zM415 379h1v1h-1zM419 379h1v1h-1zM423 379h1v1h-1zM427 379h1v1h-1zM431 379h1v1h-1zM435 379h1v1h-1zM439 379h1v1h-1zM443 379h1v1h-1zM447 379h1v1h-1zM451 379h1v1h-1zM455 379h1v1h-1zM459 379h1v1h-1zM463 379h1v1h-1zM467 379h1v1h-1zM471 379h1v1h-1zM475 379h1v1h-1zM479 379h1v1h-1zM483 379h1v1h-1zM487 379h1v1h-1zM491 379h1v1h-1zM495 379h1v1h-1zM499 379h1v1h-1zM503 379h1v1h-1zM507 379h1v1h-1zM511 379h1v1h-1zM515 379h1v1h-1zM519 379h1v1h-1zM523 379h1v1h-1zM527 379h1v1h-1zM531 379h1v1h-1zM535 379h1v1h-1zM539 379h1v1h-1zM543 379h1v1h-1zM547 379h1v1h-1zM551 379h1v1h-1zM555 379h1v1h-1zM559 379h1v1h-1zM563 379h1v1h-1zM567 379h1v1h-1z"/>
<path fill="#ededed" d="M112 65h1v1h-1zM341 42h1v1h-1zM417 188h1v1h-1zM417 266h1v1h-1zM341 413h1v1h-1z"/>
<path fill="#738c8c" d="M381 413h1v1h-1zM385 413h1v1h-1z"/>
<rect x="384" y="5" width="13" height="10" fill="#008000"/>
<rect x="385" y="6" width="11" height="8" fill="#008c00"/>
<rect x="444" y="5" width="13" height="10" fill="#f0be00"/>
<rect x="445" y="6" width="11" height="8" fill="#f0be00"/>
<rect x="486" y="5" width="13" height="10" fill="#f00000"/>
<rect x="487" y="6" width="11" height="8" fill="#ff0000"/>
<rect x="546" y="5" width="13" height="10" fill="#380076"/>
<rect x="547" y="6" width="11" height="8" fill="#42007a"/>
</g>
<g fill="#000" style="will-change:transform"><text x="0.44" y="15.00" font-size="14.00" textLength="8.21" lengthAdjust="spacingAndGlyphs" font-family='"Liberation Sans", sans-serif' font-weight="normal" fill="#333" text-rendering="geometricPrecision">3</text><text x="9.36" y="14.22" font-size="14.00" textLength="12.28" lengthAdjust="spacingAndGlyphs" font-family='"Liberation Sans", sans-serif' font-weight="normal" fill="#333" text-rendering="geometricPrecision">-</text><text x="21.84" y="15.00" font-size="14.00" textLength="33.44" lengthAdjust="spacingAndGlyphs" font-family='"Liberation Sans", sans-serif' font-weight="normal" fill="#333" text-rendering="geometricPrecision">hour</text><text x="62.00" y="15.00" font-size="14.00" textLength="8.14" lengthAdjust="spacingAndGlyphs" font-family='"Liberation Sans", sans-serif' font-weight="normal" fill="#333" text-rendering="geometricPrecision">K</text><text x="70.18" y="14.22" font-size="14.00" textLength="13.64" lengthAdjust="spacingAndGlyphs" font-family='"Liberation Sans", sans-serif' font-weight="normal" fill="#333" text-rendering="geometricPrecision">-</text><text x="82.93" y="15.00" font-size="14.00" textLength="49.64" lengthAdjust="spacingAndGlyphs" font-family='"Liberation Sans", sans-serif' font-weight="normal" fill="#333" text-rendering="geometricPrecision">indices</text><text x="139.75" y="15.00" font-size="14.00" textLength="20.54" lengthAdjust="spacingAndGlyphs" font-family='"Liberation Sans", sans-serif' font-weight="normal" fill="#333" text-rendering="geometricPrecision">for</text><text x="166.63" y="15.00" font-size="14.00" textLength="31.49" lengthAdjust="spacingAndGlyphs" font-family='"Liberation Sans", sans-serif' font-weight="normal" fill="#333" text-rendering="geometricPrecision">Last</text><text x="205.10" y="15.00" font-size="14.00" textLength="9.79" lengthAdjust="spacingAndGlyphs" font-family='"Liberation Sans", sans-serif' font-weight="normal" fill="#333" text-rendering="geometricPrecision">7</text><text x="221.34" y="15.00" font-size="14.00" textLength="33.23" lengthAdjust="spacingAndGlyphs" font-family='"Liberation Sans", sans-serif' font-weight="normal" fill="#333" text-rendering="geometricPrecision">days</text><text x="336.05" y="15.00" font-size="11.60" textLength="42.01" lengthAdjust="spacingAndGlyphs" font-family='"Liberation Sans", sans-serif' font-weight="normal">Legend:</text><text x="402.59" y="15.00" font-size="11.63" textLength="5.82" lengthAdjust="spacingAndGlyphs" font-family='"Liberation Sans", sans-serif' font-weight="normal">0</text><text x="408.73" y="14.59" font-size="11.63" textLength="9.55" lengthAdjust="spacingAndGlyphs" font-family='"Liberation Sans", sans-serif' font-weight="normal">-</text><text x="417.52" y="15.00" font-size="11.63" textLength="7.04" lengthAdjust="spacingAndGlyphs" font-family='"Liberation Sans", sans-serif' font-weight="normal">3</text><text x="462.73" y="15.00" font-size="11.63" textLength="6.62" lengthAdjust="spacingAndGlyphs" font-family='"Liberation Sans", sans-serif' font-weight="normal">4</text><text x="504.54" y="15.00" font-size="11.63" textLength="15.96" lengthAdjust="spacingAndGlyphs" font-family='"Liberation Sans", sans-serif' font-weight="normal">5,6</text><text x="564.32" y="15.00" font-size="11.63" textLength="7.34" lengthAdjust="spacingAndGlyphs" font-family='"Liberation Sans", sans-serif' font-weight="normal">7</text><text x="570.73" y="14.59" font-size="11.63" textLength="9.55" lengthAdjust="spacingAndGlyphs" font-family='"Liberation Sans", sans-serif' font-weight="normal">-</text><text x="579.39" y="15.00" font-size="11.63" textLength="7.22" lengthAdjust="spacingAndGlyphs" font-family='"Liberation Sans", sans-serif' font-weight="normal">9</text><text x="27.59" y="122.00" font-size="10.17" textLength="5.82" lengthAdjust="spacingAndGlyphs" font-family='"Liberation Sans", sans-serif' font-weight="normal" text-rendering="geometricPrecision">0</text><text x="28.47" y="114.00" font-size="10.17" textLength="3.87" lengthAdjust="spacingAndGlyphs" font-family='"Liberation Sans", sans-serif' font-weight="normal" text-rendering="geometricPrecision">1</text><text x="27.45" y="103.00" font-size="10.17" textLength="6.10" lengthAdjust="spacingAndGlyphs" font-family='"Liberation Sans", sans-serif' font-weight="normal" text-rendering="geometricPrecision">2</text><text x="27.60" y="92.00" font-size="10.17" textLength="5.87" lengthAdjust="spacingAndGlyphs" font-family='"Liberation Sans", sans-serif' font-weight="normal" text-rendering="geometricPrecision">3</text><text x="27.77" y="80.00" font-size="10.17" textLength="5.52" lengthAdjust="spacingAndGlyphs" font-family='"Liberation Sans", sans-serif' font-weight="normal" text-rendering="geometricPrecision">4</text><text x="27.58" y="69.00" font-size="10.17" textLength="5.87" lengthAdjust="spacingAndGlyphs" font-family='"Liberation Sans", sans-serif' font-weight="normal" text-rendering="geometricPrecision">5</text><text x="27.45" y="58.00" font-size="10.17" textLength="6.03" lengthAdjust="spacingAndGlyphs" font-family='"Liberation Sans", sans-serif' font-weight="normal" text-rendering="geometricPrecision">6</text><text x="27.44" y="46.00" font-size="10.17" textLength="6.12" lengthAdjust="spacingAndGlyphs" font-family='"Liberation Sans", sans-serif' font-weight="normal" text-rendering="geometricPrecision">7</text><text x="27.54" y="35.00" font-size="10.17" textLength="5.93" lengthAdjust="spacingAndGlyphs" font-family='"Liberation Sans", sans-serif' font-weight="normal" text-rendering="geometricPrecision">8</text><text x="27.49" y="26.00" font-size="10.17" textLength="6.02" lengthAdjust="spacingAndGlyphs" font-family='"Liberation Sans", sans-serif' font-weight="normal" text-rendering="geometricPrecision">9</text><text x="27.59" y="235.00" font-size="10.17" textLength="5.82" lengthAdjust="spacingAndGlyphs" font-family='"Liberation Sans", sans-serif' font-weight="normal" text-rendering="geometricPrecision">0</text><text x="28.47" y="227.00" font-size="10.17" textLength="3.87" lengthAdjust="spacingAndGlyphs" font-family='"Liberation Sans", sans-serif' font-weight="normal" text-rendering="geometricPrecision">1</text><text x="27.45" y="216.00" font-size="10.17" textLength="6.10" lengthAdjust="spacingAndGlyphs" font-family='"Liberation Sans", sans-serif' font-weight="normal" text-rendering="geometricPrecision">2</text><text x="27.60" y="205.00" font-size="10.17" textLength="5.87" lengthAdjust="spacingAndGlyphs" font-family='"Liberation Sans", sans-serif' font-weight="normal" text-rendering="geometricPrecision">3</text><text x="27.77" y="193.00" font-size="10.17" textLength="5.52" lengthAdjust="spacingAndGlyphs" font-family='"Liberation Sans", sans-serif' font-weight="normal" text-rendering="geometricPrecision">4</text><text x="27.58" y="182.00" font-size="10.17" textLength="5.87" lengthAdjust="spacingAndGlyphs" font-family='"Liberation Sans", sans-serif' font-weight="normal" text-rendering="geometricPrecision">5</text><text x="27.45" y="171.00" font-size="10.17" textLength="6.03" lengthAdjust="spacingAndGlyphs" font-family='"Liberation Sans", sans-serif' font-weight="normal" text-rendering="geometricPrecision">6</text><text x="27.44" y="159.00" font-size="10.17" textLength="6.12" lengthAdjust="spacingAndGlyphs" font-family='"Liberation Sans", sans-serif' font-weight="normal" text-rendering="geometricPrecision">7</text><text x="27.54" y="148.00" font-size="10.17" textLength="5.93" lengthAdjust="spacingAndGlyphs" font-family='"Liberation Sans", sans-serif' font-weight="normal" text-rendering="geometricPrecision">8</text><text x="27.49" y="139.00" font-size="10.17" textLength="6.02" lengthAdjust="spacingAndGlyphs" font-family='"Liberation Sans", sans-serif' font-weight="normal" text-rendering="geometricPrecision">9</text><text x="27.59" y="347.00" font-size="10.17" textLength="5.82" lengthAdjust="spacingAndGlyphs" font-family='"Liberation Sans", sans-serif' font-weight="normal" text-rendering="geometricPrecision">0</text><text x="28.47" y="339.00" font-size="10.17" textLength="3.87" lengthAdjust="spacingAndGlyphs" font-family='"Liberation Sans", sans-serif' font-weight="normal" text-rendering="geometricPrecision">1</text><text x="27.45" y="328.00" font-size="10.17" textLength="6.10" lengthAdjust="spacingAndGlyphs" font-family='"Liberation Sans", sans-serif' font-weight="normal" text-rendering="geometricPrecision">2</text><text x="27.60" y="317.00" font-size="10.17" textLength="5.87" lengthAdjust="spacingAndGlyphs" font-family='"Liberation Sans", sans-serif' font-weight="normal" text-rendering="geometricPrecision">3</text><text x="27.77" y="305.00" font-size="10.17" textLength="5.52" lengthAdjust="spacingAndGlyphs" font-family='"Liberation Sans", sans-serif' font-weight="normal" text-rendering="geometricPrecision">4</text><text x="27.58" y="294.00" font-size="10.17" textLength="5.87" lengthAdjust="spacingAndGlyphs" font-family='"Liberation Sans", sans-serif' font-weight="normal" text-rendering="geometricPrecision">5</text><text x="27.45" y="283.00" font-size="10.17" textLength="6.03" lengthAdjust="spacingAndGlyphs" font-family='"Liberation Sans", sans-serif' font-weight="normal" text-rendering="geometricPrecision">6</text><text x="27.44" y="271.00" font-size="10.17" textLength="6.12" lengthAdjust="spacingAndGlyphs" font-family='"Liberation Sans", sans-serif' font-weight="normal" text-rendering="geometricPrecision">7</text><text x="27.54" y="260.00" font-size="10.17" textLength="5.93" lengthAdjust="spacingAndGlyphs" font-family='"Liberation Sans", sans-serif' font-weight="normal" text-rendering="geometricPrecision">8</text><text x="27.49" y="251.00" font-size="10.17" textLength="6.02" lengthAdjust="spacingAndGlyphs" font-family='"Liberation Sans", sans-serif' font-weight="normal" text-rendering="geometricPrecision">9</text><text x="27.59" y="459.00" font-size="10.17" textLength="5.82" lengthAdjust="spacingAndGlyphs" font-family='"Liberation Sans", sans-serif' font-weight="normal" text-rendering="geometricPrecision">0</text><text x="28.47" y="451.00" font-size="10.17" textLength="3.87" lengthAdjust="spacingAndGlyphs" font-family='"Liberation Sans", sans-serif' font-weight="normal" text-rendering="geometricPrecision">1</text><text x="27.45" y="440.00" font-size="10.17" textLength="6.10" lengthAdjust="spacingAndGlyphs" font-family='"Liberation Sans", sans-serif' font-weight="normal" text-rendering="geometricPrecision">2</text><text x="27.60" y="429.00" font-size="10.17" textLength="5.87" lengthAdjust="spacingAndGlyphs" font-family='"Liberation Sans", sans-serif' font-weight="normal" text-rendering="geometricPrecision">3</text><text x="27.77" y="417.00" font-size="10.17" textLength="5.52" lengthAdjust="spacingAndGlyphs" font-family='"Liberation Sans", sans-serif' font-weight="normal" text-rendering="geometricPrecision">4</text><text x="27.58" y="406.00" font-size="10.17" textLength="5.87" lengthAdjust="spacingAndGlyphs" font-family='"Liberation Sans", sans-serif' font-weight="normal" text-rendering="geometricPrecision">5</text><text x="27.45" y="395.00" font-size="10.17" textLength="6.03" lengthAdjust="spacingAndGlyphs" font-family='"Liberation Sans", sans-serif' font-weight="normal" text-rendering="geometricPrecision">6</text><text x="27.44" y="383.00" font-size="10.17" textLength="6.12" lengthAdjust="spacingAndGlyphs" font-family='"Liberation Sans", sans-serif' font-weight="normal" text-rendering="geometricPrecision">7</text><text x="27.54" y="372.00" font-size="10.17" textLength="5.93" lengthAdjust="spacingAndGlyphs" font-family='"Liberation Sans", sans-serif' font-weight="normal" text-rendering="geometricPrecision">8</text><text x="27.49" y="363.00" font-size="10.17" textLength="6.02" lengthAdjust="spacingAndGlyphs" font-family='"Liberation Sans", sans-serif' font-weight="normal" text-rendering="geometricPrecision">9</text><text transform="rotate(-90)" x="-97.08" y="13.00" font-size="11.50" textLength="45.30" lengthAdjust="spacingAndGlyphs" font-family='"Liberation Sans", sans-serif'>Boulder</text><text transform="rotate(-90)" x="-229.06" y="13.00" font-size="11.50" textLength="85.89" lengthAdjust="spacingAndGlyphs" font-family='"Liberation Sans", sans-serif'>Fredericksburg</text><text transform="rotate(-90)" x="-342.06" y="13.00" font-size="11.50" textLength="22.24" lengthAdjust="spacingAndGlyphs" font-family='"Liberation Sans", sans-serif'>Est.</text><text transform="rotate(-90)" x="-314.07" y="13.00" font-size="11.50" textLength="55.10" lengthAdjust="spacingAndGlyphs" font-family='"Liberation Sans", sans-serif'>Planetary</text><text transform="rotate(-90)" x="-428.63" y="13.00" font-size="11.50" textLength="42.18" lengthAdjust="spacingAndGlyphs" font-family='"Liberation Sans", sans-serif'>College</text><text x="17.08" y="473.00" font-size="11.60" textLength="19.40" lengthAdjust="spacingAndGlyphs" font-family='"Liberation Sans", sans-serif' font-weight="normal">Feb</text><text x="42.15" y="473.00" font-size="11.60" textLength="12.41" lengthAdjust="spacingAndGlyphs" font-family='"Liberation Sans", sans-serif' font-weight="normal">17</text><text x="94.13" y="473.00" font-size="11.60" textLength="18.32" lengthAdjust="spacingAndGlyphs" font-family='"Liberation Sans", sans-serif' font-weight="normal">Feb</text><text x="118.08" y="473.00" font-size="11.60" textLength="13.45" lengthAdjust="spacingAndGlyphs" font-family='"Liberation Sans", sans-serif' font-weight="normal">18</text><text x="170.13" y="473.00" font-size="11.60" textLength="18.32" lengthAdjust="spacingAndGlyphs" font-family='"Liberation Sans", sans-serif' font-weight="normal">Feb</text><text x="194.08" y="473.00" font-size="11.60" textLength="13.50" lengthAdjust="spacingAndGlyphs" font-family='"Liberation Sans", sans-serif' font-weight="normal">19</text><text x="246.08" y="473.00" font-size="11.60" textLength="19.40" lengthAdjust="spacingAndGlyphs" font-family='"Liberation Sans", sans-serif' font-weight="normal">Feb</text><text x="270.36" y="473.00" font-size="11.60" textLength="14.14" lengthAdjust="spacingAndGlyphs" font-family='"Liberation Sans", sans-serif' font-weight="normal">20</text><text x="322.08" y="473.00" font-size="11.60" textLength="19.40" lengthAdjust="spacingAndGlyphs" font-family='"Liberation Sans", sans-serif' font-weight="normal">Feb</text><text x="346.45" y="473.00" font-size="11.60" textLength="12.08" lengthAdjust="spacingAndGlyphs" font-family='"Liberation Sans", sans-serif' font-weight="normal">21</text><text x="399.08" y="473.00" font-size="11.60" textLength="19.40" lengthAdjust="spacingAndGlyphs" font-family='"Liberation Sans", sans-serif' font-weight="normal">Feb</text><text x="422.35" y="473.00" font-size="11.60" textLength="14.29" lengthAdjust="spacingAndGlyphs" font-family='"Liberation Sans", sans-serif' font-weight="normal">22</text><text x="475.08" y="473.00" font-size="11.60" textLength="19.40" lengthAdjust="spacingAndGlyphs" font-family='"Liberation Sans", sans-serif' font-weight="normal">Feb</text><text x="499.36" y="473.00" font-size="11.60" textLength="14.20" lengthAdjust="spacingAndGlyphs" font-family='"Liberation Sans", sans-serif' font-weight="normal">23</text><text x="551.08" y="473.00" font-size="11.60" textLength="19.40" lengthAdjust="spacingAndGlyphs" font-family='"Liberation Sans", sans-serif' font-weight="normal">Feb</text><text x="575.37" y="473.00" font-size="11.60" textLength="14.00" lengthAdjust="spacingAndGlyphs" font-family='"Liberation Sans", sans-serif' font-weight="normal">24</text><text x="192.28" y="490.00" font-size="14.00" textLength="69.35" lengthAdjust="spacingAndGlyphs" font-family='"Liberation Sans", sans-serif' font-weight="normal" fill="#333" text-rendering="geometricPrecision">Coordinate</text><text x="268.91" y="490.00" font-size="14.00" textLength="59.04" lengthAdjust="spacingAndGlyphs" font-family='"Liberation Sans", sans-serif' font-weight="normal" fill="#333" text-rendering="geometricPrecision">Universal</text><text x="333.68" y="490.00" font-size="14.00" textLength="31.96" lengthAdjust="spacingAndGlyphs" font-family='"Liberation Sans", sans-serif' font-weight="normal" fill="#333" text-rendering="geometricPrecision">Time</text><text x="372.16" y="490.00" font-size="14.00" textLength="36.67" lengthAdjust="spacingAndGlyphs" font-family='"Liberation Sans", sans-serif' font-weight="normal" fill="#333" text-rendering="geometricPrecision">(UTC)</text><text x="0.60" y="504.00" font-size="13.50" textLength="59.59" lengthAdjust="spacingAndGlyphs" font-family='"Liberation Serif", serif' font-weight="bold">Updated</text><text x="66.22" y="505.00" font-size="14.00" textLength="34.52" lengthAdjust="spacingAndGlyphs" font-family='"Liberation Sans", sans-serif' font-weight="normal" fill="#333">2019</text><text x="106.87" y="505.00" font-size="14.00" textLength="23.71" lengthAdjust="spacingAndGlyphs" font-family='"Liberation Sans", sans-serif' font-weight="normal" fill="#333">Feb</text><text x="136.16" y="505.00" font-size="14.00" textLength="18.57" lengthAdjust="spacingAndGlyphs" font-family='"Liberation Sans", sans-serif' font-weight="normal" fill="#333">23</text><text x="160.25" y="505.00" font-size="14.00" textLength="33.34" lengthAdjust="spacingAndGlyphs" font-family='"Liberation Sans", sans-serif' font-weight="normal" fill="#333">2130</text><text x="403.95" y="505.00" font-size="14.00" textLength="78.54" lengthAdjust="spacingAndGlyphs" font-family='"Liberation Sans", sans-serif' font-weight="normal" fill="#333">NOAA/SWPC</text><text x="489.80" y="505.00" font-size="13.50" textLength="54.52" lengthAdjust="spacingAndGlyphs" font-family='"Liberation Sans", sans-serif' font-weight="normal" fill="#333">Boulder,</text><text x="549.35" y="505.00" font-size="14.00" textLength="19.27" lengthAdjust="spacingAndGlyphs" font-family='"Liberation Sans", sans-serif' font-weight="normal" fill="#333">CO</text><text x="573.99" y="505.00" font-size="14.00" textLength="27.04" lengthAdjust="spacingAndGlyphs" font-family='"Liberation Sans", sans-serif' font-weight="normal" fill="#333">USA</text></g>
</svg></body></html>
